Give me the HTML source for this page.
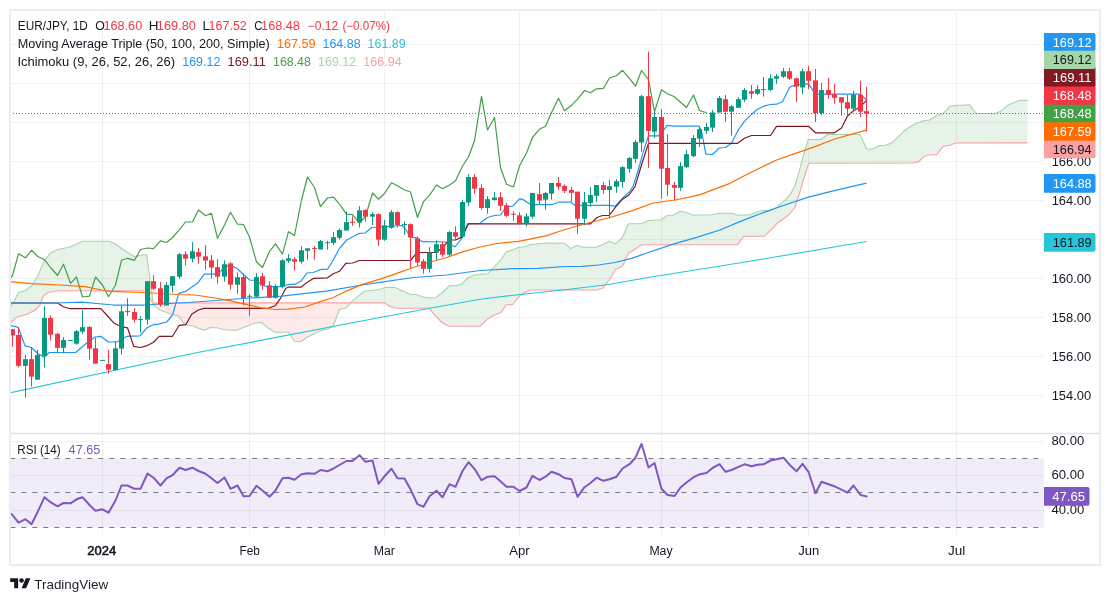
<!DOCTYPE html>
<html><head><meta charset="utf-8"><title>EUR/JPY chart</title>
<style>html,body{margin:0;padding:0;background:#fff;}body{width:1110px;height:602px;overflow:hidden;position:relative;font-family:"Liberation Sans", sans-serif;}</style>
</head><body>
<svg width="1110" height="602" viewBox="0 0 1110 602" style="position:absolute;left:0;top:0;font-family:'Liberation Sans',sans-serif">
<defs><clipPath id="cm"><rect x="11" y="11" width="1033" height="422"/></clipPath><clipPath id="cr"><rect x="11" y="434" width="1033" height="101"/></clipPath></defs>
<rect x="0" y="0" width="1110" height="602" fill="#ffffff"/>
<rect x="10" y="10" width="1090" height="555" fill="none" stroke="#ecedf3" stroke-width="2"/>
<line x1="102.5" y1="11" x2="102.5" y2="535" stroke="rgba(42,46,57,0.065)" stroke-width="1"/>
<line x1="249.5" y1="11" x2="249.5" y2="535" stroke="rgba(42,46,57,0.065)" stroke-width="1"/>
<line x1="384.5" y1="11" x2="384.5" y2="535" stroke="rgba(42,46,57,0.065)" stroke-width="1"/>
<line x1="519.5" y1="11" x2="519.5" y2="535" stroke="rgba(42,46,57,0.065)" stroke-width="1"/>
<line x1="661.5" y1="11" x2="661.5" y2="535" stroke="rgba(42,46,57,0.065)" stroke-width="1"/>
<line x1="808.5" y1="11" x2="808.5" y2="535" stroke="rgba(42,46,57,0.065)" stroke-width="1"/>
<line x1="956.5" y1="11" x2="956.5" y2="535" stroke="rgba(42,46,57,0.065)" stroke-width="1"/>
<line x1="11" y1="395.5" x2="1044" y2="395.5" stroke="rgba(42,46,57,0.065)" stroke-width="1"/>
<line x1="11" y1="356.5" x2="1044" y2="356.5" stroke="rgba(42,46,57,0.065)" stroke-width="1"/>
<line x1="11" y1="317.5" x2="1044" y2="317.5" stroke="rgba(42,46,57,0.065)" stroke-width="1"/>
<line x1="11" y1="278.5" x2="1044" y2="278.5" stroke="rgba(42,46,57,0.065)" stroke-width="1"/>
<line x1="11" y1="239.5" x2="1044" y2="239.5" stroke="rgba(42,46,57,0.065)" stroke-width="1"/>
<line x1="11" y1="200.5" x2="1044" y2="200.5" stroke="rgba(42,46,57,0.065)" stroke-width="1"/>
<line x1="11" y1="161.5" x2="1044" y2="161.5" stroke="rgba(42,46,57,0.065)" stroke-width="1"/>
<line x1="11" y1="122.5" x2="1044" y2="122.5" stroke="rgba(42,46,57,0.065)" stroke-width="1"/>
<line x1="11" y1="83.5" x2="1044" y2="83.5" stroke="rgba(42,46,57,0.065)" stroke-width="1"/>
<line x1="11" y1="44.5" x2="1044" y2="44.5" stroke="rgba(42,46,57,0.065)" stroke-width="1"/>
<rect x="11" y="458.5" width="1033" height="69" fill="rgba(126,87,194,0.115)"/>
<line x1="11" y1="441.5" x2="1044" y2="441.5" stroke="rgba(42,46,57,0.065)" stroke-width="1"/>
<line x1="11" y1="475.5" x2="1044" y2="475.5" stroke="rgba(42,46,57,0.065)" stroke-width="1"/>
<line x1="11" y1="510.5" x2="1044" y2="510.5" stroke="rgba(42,46,57,0.065)" stroke-width="1"/>
<line x1="11" y1="433.5" x2="1099" y2="433.5" stroke="#dfe1ec" stroke-width="1.4"/>
<g clip-path="url(#cm)">
<polygon points="10,306.7 10.5,306.18 11,305.67 11.5,305.15 12,304.64 12.5,304.12 13,303.61 13.5,302.87 14,301.79 14.5,300.71 15,299.63 15.5,298.55 16,297.47 16.5,296.39 17,295.31 17.5,294.23 18,293.15 18.5,292.45 19,292.32 19.5,292.2 20,292.07 20.5,291.94 21,291.81 21.5,291.69 22,291.56 22.5,291.43 23,291.31 23.5,291.18 24,291.05 24.5,290.93 25,290.8 25.5,290.43 26,290.05 26.5,289.68 27,289.31 27.5,288.93 28,288.56 28.5,288.19 29,287.81 29.5,287.44 30,287.07 30.5,286.7 31,286.32 31.5,285.95 32,285.33 32.5,284.54 33,283.76 33.5,282.98 34,282.19 34.5,281.41 35,280.62 35.5,279.84 36,279.05 36.5,278.27 37,277.48 37.5,276.7 38,275.51 38.5,274.33 39,273.14 39.5,271.95 40,270.77 40.5,269.58 41,268.39 41.5,267.21 42,266.02 42.5,264.83 43,263.65 43.5,262.46 44,261.27 44.5,260.41 45,259.77 45.5,259.12 46,258.47 46.5,257.83 47,257.18 47.5,256.53 48,255.89 48.5,255.24 49,254.59 49.5,253.95 50,253.3 50.5,253.05 51,252.8 51.5,252.55 52,252.3 52.5,252.05 53,251.8 53.5,251.55 54,251.3 54.5,251.05 55,250.8 55.5,250.55 56,250.3 56.5,250.05 57,249.8 57.5,249.64 58,249.53 58.5,249.43 59,249.32 59.5,249.21 60,249.11 60.5,249 61,248.9 61.5,248.79 62,248.69 62.5,248.58 63,248.48 63.5,248.37 64,248.27 64.5,248.16 65,248.05 65.5,247.95 66,247.84 66.5,247.74 67,247.63 67.5,247.53 68,247.42 68.5,247.32 69,247.21 69.5,247.11 70,247 70.5,246.77 71,246.54 71.5,246.32 72,246.09 72.5,245.86 73,245.63 73.5,245.4 74,245.18 74.5,244.95 75,244.72 75.5,244.49 76,244.26 76.5,244.04 77,243.81 77.5,243.58 78,243.35 78.5,243.12 79,242.9 79.5,242.67 80,242.44 80.5,242.21 81,241.98 81.5,241.76 82,241.53 82.5,241.3 83,241.3 83.5,241.3 84,241.3 84.5,241.3 85,241.3 85.5,241.3 86,241.3 86.5,241.3 87,241.3 87.5,241.3 88,241.3 88.5,241.3 89,241.3 89.5,241.3 90,241.3 90.5,241.3 91,241.3 91.5,241.3 92,241.3 92.5,241.3 93,241.3 93.5,241.3 94,241.3 94.5,241.3 95,241.3 95.5,241.3 96,241.3 96.5,241.3 97,241.3 97.5,241.3 98,241.3 98.5,241.3 99,241.3 99.5,241.3 100,241.3 100.5,241.3 101,241.3 101.5,241.3 102,241.3 102.5,241.3 103,241.3 103.5,241.3 104,241.3 104.5,241.3 105,241.3 105.5,241.3 106,241.3 106.5,241.3 107,241.3 107.5,241.3 108,241.3 108.5,241.37 109,241.55 109.5,241.73 110,241.91 110.5,242.09 111,242.27 111.5,242.45 112,242.63 112.5,242.8 113,242.98 113.5,243.16 114,243.34 114.5,243.52 115,243.7 115.5,244.07 116,244.43 116.5,244.8 117,245.16 117.5,245.53 118,245.89 118.5,246.26 119,246.62 119.5,246.99 120,247.35 120.5,247.72 121,248.08 121.5,248.43 122,248.76 122.5,249.08 123,249.41 123.5,249.73 124,250.06 124.5,250.38 125,250.71 125.5,251.03 126,251.36 126.5,251.69 127,252.01 127.5,252.34 128,252.66 128.5,252.99 129,253.31 129.5,253.64 130,253.97 130.5,254.29 131,254.62 131.5,254.94 132,255.27 132.5,255.59 133,255.92 133.5,256.24 134,256.57 134.5,256.63 135,256.52 135.5,256.41 136,256.3 136.5,256.19 137,256.08 137.5,255.97 138,255.86 138.5,255.74 139,255.63 139.5,255.52 140,255.41 140.5,255.3 141,255.25 141.5,255.2 142,255.15 142.5,255.11 143,255.06 143.5,255.01 144,254.96 144.5,254.91 145,254.86 145.5,254.82 146,254.77 146.5,254.72 147,256.96 147.5,260.74 148,264.51 148,290.8 147.5,290.8 147,290.8 146.5,290.8 146,290.8 145.5,290.8 145,290.8 144.5,290.8 144,290.8 143.5,290.8 143,290.8 142.5,290.8 142,290.8 141.5,290.8 141,290.8 140.5,290.8 140,290.8 139.5,290.8 139,290.8 138.5,290.8 138,290.8 137.5,290.8 137,290.8 136.5,290.8 136,290.8 135.5,290.8 135,290.8 134.5,290.8 134,290.8 133.5,290.8 133,290.8 132.5,290.8 132,290.8 131.5,290.8 131,290.8 130.5,290.8 130,290.8 129.5,290.8 129,290.8 128.5,290.8 128,290.8 127.5,290.8 127,290.8 126.5,290.8 126,290.8 125.5,290.8 125,290.8 124.5,290.8 124,290.8 123.5,290.8 123,290.8 122.5,290.8 122,290.8 121.5,290.8 121,290.8 120.5,290.8 120,290.8 119.5,290.8 119,290.8 118.5,290.8 118,290.8 117.5,290.8 117,290.8 116.5,290.8 116,290.8 115.5,290.8 115,290.8 114.5,290.8 114,290.8 113.5,290.8 113,290.8 112.5,290.8 112,290.8 111.5,290.8 111,290.8 110.5,290.8 110,290.8 109.5,290.8 109,290.8 108.5,290.8 108,290.8 107.5,290.8 107,290.8 106.5,290.8 106,290.8 105.5,290.8 105,290.8 104.5,290.8 104,290.8 103.5,290.8 103,290.8 102.5,290.8 102,290.8 101.5,290.8 101,290.8 100.5,290.8 100,290.8 99.5,290.8 99,290.8 98.5,290.8 98,290.8 97.5,290.8 97,290.8 96.5,290.8 96,290.8 95.5,290.8 95,290.8 94.5,290.8 94,290.8 93.5,290.8 93,290.8 92.5,290.8 92,290.8 91.5,290.8 91,290.8 90.5,290.8 90,290.8 89.5,290.8 89,290.8 88.5,290.8 88,290.8 87.5,290.8 87,290.8 86.5,290.8 86,290.8 85.5,290.8 85,290.8 84.5,290.8 84,290.8 83.5,290.8 83,290.8 82.5,290.8 82,290.8 81.5,290.8 81,290.8 80.5,290.8 80,290.8 79.5,290.8 79,290.8 78.5,290.8 78,290.8 77.5,290.8 77,290.8 76.5,290.8 76,290.8 75.5,290.8 75,290.8 74.5,290.8 74,290.8 73.5,290.8 73,290.8 72.5,290.8 72,290.8 71.5,290.8 71,290.8 70.5,290.8 70,290.8 69.5,290.8 69,290.8 68.5,290.8 68,290.8 67.5,290.8 67,290.8 66.5,290.8 66,290.8 65.5,290.8 65,290.8 64.5,290.8 64,290.8 63.5,290.8 63,290.8 62.5,290.8 62,290.8 61.5,290.8 61,290.8 60.5,290.8 60,290.8 59.5,290.8 59,290.8 58.5,290.8 58,290.8 57.5,290.8 57,290.8 56.5,290.84 56,290.94 55.5,291.04 55,291.14 54.5,291.25 54,291.35 53.5,291.45 53,291.55 52.5,291.65 52,291.75 51.5,291.85 51,291.95 50.5,292.05 50,292.16 49.5,292.26 49,292.36 48.5,292.46 48,292.7 47.5,293.03 47,293.36 46.5,293.69 46,294.02 45.5,294.35 45,294.68 44.5,295.01 44,295.34 43.5,295.67 43,296.64 42.5,298.03 42,299.42 41.5,300.82 41,302.21 40.5,303.61 40,305 39.5,305.53 39,306.06 38.5,306.59 38,307.12 37.5,307.65 37,308.18 36.5,308.71 36,309.24 35.5,309.77 35,310.3 34.5,310.55 34,310.81 33.5,311.06 33,311.31 32.5,311.57 32,311.82 31.5,312.07 31,312.32 30.5,312.58 30,312.83 29.5,313.08 29,313.34 28.5,313.59 28,313.84 27.5,314.1 27,314.35 26.5,314.55 26,314.67 25.5,314.79 25,314.91 24.5,315.03 24,315.15 23.5,315.27 23,315.38 22.5,315.5 22,315.62 21.5,315.74 21,315.86 20.5,315.98 20,316.1 19.5,316.22 19,316.34 18.5,316.46 18,316.58 17.5,316.7 17,317.14 16.5,317.58 16,318.02 15.5,318.46 15,318.9 14.5,319.34 14,319.78 13.5,320.22 13,320.66 12.5,321.1 12,321.54 11.5,321.98 11,322.42 10.5,322.86 10,323.3" fill="rgba(67,160,71,0.125)"/>
<polygon points="148,264.51 148.5,268.28 149,272.05 149.5,275.83 150,279.6 150.5,283.37 151,287.15 151.5,290.92 152,294.69 152.5,298.46 153,302.24 153.5,304.66 154,305.07 154.5,305.49 155,305.9 155.5,306.31 156,306.72 156.5,307.13 157,307.54 157.5,307.95 158,308.36 158.5,308.77 159,309.18 159.5,309.59 160,310 160.5,310.19 161,310.37 161.5,310.56 162,310.75 162.5,310.93 163,311.12 163.5,311.31 164,311.49 164.5,311.68 165,311.87 165.5,312.05 166,312.24 166.5,312.43 167,312.6 167.5,312.77 168,312.93 168.5,313.1 169,313.27 169.5,313.43 170,313.6 170.5,313.77 171,313.93 171.5,314.1 172,314.27 172.5,314.43 173,314.6 173.5,314.74 174,314.85 174.5,314.96 175,315.07 175.5,315.18 176,315.29 176.5,315.4 177,315.51 177.5,315.62 178,315.73 178.5,316.07 179,316.74 179.5,317.41 180,318.08 180.5,318.75 181,319.42 181.5,320.09 182,320.76 182.5,321.43 183,322.1 183.5,322.65 184,323.01 184.5,323.38 185,323.75 185.5,324.12 186,324.49 186.5,324.85 187,325.05 187.5,325.12 188,325.2 188.5,325.27 189,325.35 189.5,325.42 190,325.5 190.5,325.58 191,325.65 191.5,325.73 192,325.8 192.5,325.88 193,325.95 193.5,326.09 194,326.32 194.5,326.55 195,326.78 195.5,327.01 196,327.24 196.5,327.47 197,327.7 197.5,327.93 198,328.16 198.5,328.37 199,328.54 199.5,328.71 200,328.88 200.5,329.05 201,329.22 201.5,329.38 202,329.55 202.5,329.72 203,329.89 203.5,330.06 204,330.23 204.5,330.16 205,329.91 205.5,329.67 206,329.43 206.5,329.19 207,328.95 207.5,328.71 208,328.47 208.5,328.22 209,327.98 209.5,327.74 210,327.5 210.5,327.52 211,327.54 211.5,327.57 212,327.59 212.5,327.61 213,327.63 213.5,327.66 214,327.68 214.5,327.7 215,327.72 215.5,327.75 216,327.77 216.5,327.79 217,327.88 217.5,328.01 218,328.13 218.5,328.26 219,328.39 219.5,328.52 220,328.65 220.5,328.78 221,328.91 221.5,329.04 222,329.17 222.5,329.29 223,329.42 223.5,329.52 224,329.58 224.5,329.64 225,329.7 225.5,329.76 226,329.82 226.5,329.88 227,329.94 227.5,330 228,330.06 228.5,330.12 229,330.18 229.5,330.24 230,330.3 230.5,330.3 231,330.3 231.5,330.3 232,330.3 232.5,330.3 233,330.3 233.5,330.3 234,330.3 234.5,330.3 235,330.3 235.5,330.3 236,330.3 236.5,330.3 237,330.17 237.5,329.96 238,329.75 238.5,329.54 239,329.32 239.5,329.11 240,328.9 240.5,328.69 241,328.48 241.5,328.26 242,328.05 242.5,327.84 243,327.63 243.5,327.42 244,327.24 244.5,327.05 245,326.86 245.5,326.67 246,326.48 246.5,326.3 247,326.11 247.5,325.92 248,325.73 248.5,325.54 249,325.36 249.5,325.17 250,324.98 250.5,324.79 251,324.6 251.5,324.42 252,324.23 252.5,324.04 253,323.85 253.5,323.66 254,323.48 254.5,323.29 255,323.1 255.5,322.91 256,322.79 256.5,322.76 257,322.74 257.5,322.71 258,322.69 258.5,322.66 259,322.64 259.5,322.61 260,322.59 260.5,322.56 261,322.54 261.5,322.51 262,322.76 262.5,323.2 263,323.64 263.5,324.08 264,324.52 264.5,324.96 265,325.4 265.5,325.84 266,326.28 266.5,326.72 267,327.16 267.5,327.6 268,328.04 268.5,328.42 269,328.71 269.5,329 270,329.29 270.5,329.58 271,329.87 271.5,330.16 272,330.45 272.5,330.74 273,331.04 273.5,331.33 274,331.62 274.5,331.91 275,332.2 275.5,332.2 276,332.2 276.5,332.2 277,332.2 277.5,332.2 278,332.2 278.5,332.2 279,332.2 279.5,332.2 280,332.2 280.5,332.2 281,332.2 281.5,332.2 282,332.2 282.5,332.2 283,332.2 283.5,332.2 284,332.2 284.5,332.2 285,332.2 285.5,332.2 286,332.2 286.5,332.2 287,332.2 287.5,332.2 288,332.2 288.5,332.49 289,333.22 289.5,333.94 290,334.67 290.5,335.39 291,336.12 291.5,336.85 292,337.57 292.5,338.3 293,339.02 293.5,339.75 294,340.47 294.5,341.2 295,341.24 295.5,341.28 296,341.32 296.5,341.36 297,341.4 297.5,341.44 298,341.48 298.5,341.52 299,341.56 299.5,341.6 300,341.64 300.5,341.68 301,341.55 301.5,341.19 302,340.83 302.5,340.47 303,340.1 303.5,339.74 304,339.38 304.5,339.01 305,338.65 305.5,338.29 306,337.93 306.5,337.56 307,337.2 307.5,336.95 308,336.71 308.5,336.46 309,336.22 309.5,335.97 310,335.72 310.5,335.48 311,335.23 311.5,334.98 312,334.74 312.5,334.49 313,334.25 313.5,334 314,333.75 314.5,333.51 315,333.26 315.5,333.02 316,332.77 316.5,332.52 317,332.28 317.5,332.03 318,331.78 318.5,331.54 319,331.29 319.5,331.05 320,330.8 320.5,330.69 321,330.59 321.5,330.48 322,330.37 322.5,330.27 323,330.16 323.5,330.05 324,329.95 324.5,329.84 325,329.73 325.5,329.63 326,329.52 326.5,329.41 327,329.31 327.5,329.2 328,328.91 328.5,328.61 329,328.32 329.5,328.03 330,327.73 330.5,327.44 331,327.15 331.5,326.86 332,326.56 332.5,326.27 333,325.98 333.5,325.26 334,323.93 334.5,322.59 335,321.25 335.5,319.91 336,318.57 336.5,317.23 337,315.89 337.5,314.55 338,313.22 338.5,311.88 339,310.54 339.5,309.2 340,309.13 340.5,309.06 341,308.99 341.5,308.91 342,308.84 342.5,308.77 343,308.7 343.5,308.63 344,308.56 344.5,308.49 345,308.41 345.5,308.34 346,308.08 346.5,307.52 347,306.96 347,302.83 346.5,302.83 346,302.83 345.5,302.83 345,302.83 344.5,302.83 344,302.83 343.5,302.84 343,302.84 342.5,302.84 342,302.84 341.5,302.84 341,302.84 340.5,302.84 340,302.84 339.5,302.84 339,302.84 338.5,302.84 338,302.84 337.5,302.84 337,302.84 336.5,302.84 336,302.84 335.5,302.84 335,302.84 334.5,302.84 334,302.84 333.5,302.84 333,302.84 332.5,302.84 332,302.85 331.5,302.85 331,302.85 330.5,302.85 330,302.85 329.5,302.85 329,302.85 328.5,302.85 328,302.85 327.5,302.85 327,302.85 326.5,302.85 326,302.85 325.5,302.85 325,302.85 324.5,302.85 324,302.85 323.5,302.85 323,302.85 322.5,302.85 322,302.85 321.5,302.85 321,302.85 320.5,302.85 320,302.86 319.5,302.86 319,302.86 318.5,302.86 318,302.86 317.5,302.86 317,302.86 316.5,302.86 316,302.86 315.5,302.86 315,302.86 314.5,302.86 314,302.86 313.5,302.86 313,302.86 312.5,302.86 312,302.86 311.5,302.86 311,302.86 310.5,302.86 310,302.86 309.5,302.86 309,302.86 308.5,302.87 308,302.87 307.5,302.87 307,302.87 306.5,302.87 306,302.87 305.5,302.87 305,302.87 304.5,302.87 304,302.87 303.5,302.87 303,302.87 302.5,302.87 302,302.87 301.5,302.87 301,302.87 300.5,302.87 300,302.87 299.5,302.87 299,302.87 298.5,302.87 298,302.87 297.5,302.87 297,302.88 296.5,302.88 296,302.88 295.5,302.88 295,302.88 294.5,302.88 294,302.88 293.5,302.88 293,302.88 292.5,302.88 292,302.88 291.5,302.88 291,302.88 290.5,302.88 290,302.88 289.5,302.88 289,302.88 288.5,302.88 288,302.88 287.5,302.88 287,302.88 286.5,302.88 286,302.88 285.5,302.89 285,302.89 284.5,302.89 284,302.89 283.5,302.89 283,302.89 282.5,302.89 282,302.89 281.5,302.89 281,302.89 280.5,302.89 280,302.89 279.5,302.89 279,302.89 278.5,302.89 278,302.89 277.5,302.89 277,302.89 276.5,302.89 276,302.89 275.5,302.89 275,302.89 274.5,302.89 274,302.9 273.5,302.9 273,302.9 272.5,302.9 272,302.9 271.5,302.9 271,302.9 270.5,302.9 270,302.9 269.5,302.9 269,302.9 268.5,302.9 268,302.9 267.5,302.9 267,302.9 266.5,302.9 266,302.9 265.5,302.9 265,302.9 264.5,302.9 264,302.9 263.5,302.9 263,302.9 262.5,302.91 262,302.91 261.5,302.91 261,302.91 260.5,302.91 260,302.91 259.5,302.91 259,302.91 258.5,302.91 258,302.91 257.5,302.91 257,302.91 256.5,302.91 256,302.91 255.5,302.91 255,302.91 254.5,302.91 254,302.91 253.5,302.91 253,302.91 252.5,302.91 252,302.91 251.5,302.91 251,302.91 250.5,302.92 250,302.92 249.5,302.92 249,302.92 248.5,302.92 248,302.92 247.5,302.92 247,302.92 246.5,302.92 246,302.92 245.5,302.92 245,302.92 244.5,302.92 244,302.92 243.5,302.92 243,302.92 242.5,302.92 242,302.92 241.5,302.92 241,302.92 240.5,302.92 240,302.92 239.5,302.92 239,302.93 238.5,302.93 238,302.93 237.5,302.93 237,302.93 236.5,302.93 236,302.93 235.5,302.93 235,302.93 234.5,302.93 234,302.93 233.5,302.93 233,302.93 232.5,302.93 232,302.93 231.5,302.93 231,302.93 230.5,302.93 230,302.93 229.5,302.93 229,302.93 228.5,302.93 228,302.93 227.5,302.94 227,302.94 226.5,302.94 226,302.94 225.5,302.94 225,302.94 224.5,302.94 224,302.94 223.5,302.94 223,302.94 222.5,302.94 222,302.94 221.5,302.94 221,302.94 220.5,302.94 220,302.94 219.5,302.94 219,302.94 218.5,302.94 218,302.94 217.5,302.94 217,302.94 216.5,302.94 216,302.95 215.5,302.95 215,302.95 214.5,302.95 214,302.95 213.5,302.95 213,302.95 212.5,302.95 212,302.95 211.5,302.95 211,302.95 210.5,302.95 210,302.95 209.5,302.95 209,302.95 208.5,302.95 208,302.95 207.5,302.95 207,302.95 206.5,302.95 206,302.95 205.5,302.95 205,302.95 204.5,302.96 204,302.96 203.5,302.96 203,302.96 202.5,302.96 202,302.96 201.5,302.96 201,302.96 200.5,302.96 200,302.96 199.5,302.96 199,302.96 198.5,302.96 198,302.96 197.5,302.96 197,302.96 196.5,302.96 196,302.96 195.5,302.96 195,302.96 194.5,302.96 194,302.96 193.5,302.96 193,302.97 192.5,302.97 192,302.97 191.5,302.97 191,302.97 190.5,302.97 190,302.97 189.5,302.97 189,302.97 188.5,302.97 188,302.97 187.5,302.97 187,302.97 186.5,302.97 186,302.97 185.5,302.97 185,302.97 184.5,302.97 184,302.97 183.5,302.97 183,302.97 182.5,302.97 182,302.97 181.5,302.97 181,302.98 180.5,302.98 180,302.98 179.5,302.98 179,302.98 178.5,302.98 178,302.98 177.5,302.98 177,302.98 176.5,302.98 176,302.98 175.5,302.98 175,302.98 174.5,302.98 174,302.98 173.5,302.98 173,302.98 172.5,302.98 172,302.98 171.5,302.98 171,302.98 170.5,302.98 170,302.98 169.5,302.99 169,302.99 168.5,302.99 168,302.99 167.5,302.99 167,302.99 166.5,302.99 166,302.99 165.5,302.99 165,302.99 164.5,302.99 164,302.99 163.5,302.99 163,302.99 162.5,302.99 162,302.99 161.5,302.99 161,302.99 160.5,302.99 160,302.99 159.5,302.99 159,302.99 158.5,302.99 158,303 157.5,303 157,303 156.5,303 156,303 155.5,303 155,303 154.5,303 154,303 153.5,303 153,303 152.5,303 152,302.06 151.5,301.12 151,300.18 150.5,299.24 150,298.3 149.5,296.09 149,293.89 148.5,291.68 148,290.8" fill="rgba(244,67,54,0.11)"/>
<polygon points="347,306.96 347.5,306.4 348,305.84 348.5,305.28 349,304.72 349.5,304.16 350,303.6 350.5,303.04 351,302.48 351.5,301.92 352,301.36 352.5,300.8 353,300.39 353.5,299.97 354,299.56 354.5,299.15 355,298.73 355.5,298.32 356,297.91 356.5,297.5 357,297.08 357.5,296.67 358,296.26 358.5,295.84 359,295.43 359.5,295.02 360,294.6 360.5,294.19 361,293.78 361.5,293.37 362,292.95 362.5,292.54 363,292.13 363.5,291.71 364,291.3 364.5,291.24 365,291.19 365.5,291.13 366,291.07 366.5,291.02 367,290.96 367.5,290.91 368,290.85 368.5,290.79 369,290.74 369.5,290.68 370,290.62 370.5,290.57 371,290.51 371.5,290.46 372,290.4 372.5,290.34 373,290.29 373.5,290.23 374,290.18 374.5,290.12 375,290.06 375.5,290.01 376,289.95 376.5,289.89 377,289.84 377.5,289.78 378,289.73 378.5,289.67 379,289.61 379.5,289.56 380,289.5 380.5,289.3 381,289.1 381.5,288.91 382,288.71 382.5,288.51 383,288.31 383.5,288.11 384,287.91 384.5,287.72 385,287.52 385.5,287.32 386,287.21 386.5,287.22 387,287.24 387.5,287.26 388,287.27 388.5,287.29 389,287.3 389.5,287.32 390,287.34 390.5,287.35 391,287.37 391.5,287.39 392,287.4 392.5,287.42 393,287.43 393.5,287.45 394,287.47 394.5,287.48 395,287.5 395.5,287.72 396,287.95 396.5,288.17 397,288.4 397.5,288.62 398,288.84 398.5,289.07 399,289.29 399.5,289.51 400,289.74 400.5,289.96 401,290.19 401.5,290.41 402,290.63 402.5,290.86 403,291.08 403.5,291.3 404,291.53 404.5,291.75 405,291.97 405.5,292.19 406,292.42 406.5,292.64 407,292.86 407.5,293.09 408,293.31 408.5,293.53 409,293.75 409.5,293.98 410,294.2 410.5,294.23 411,294.25 411.5,294.28 412,294.3 412.5,294.33 413,294.36 413.5,294.38 414,294.41 414.5,294.43 415,294.46 415.5,294.48 416,294.57 416.5,294.73 417,294.9 417.5,295.07 418,295.23 418.5,295.4 419,295.57 419.5,295.73 420,295.9 420.5,296.07 421,296.23 421.5,296.4 422,296.57 422.5,296.73 423,296.9 423.5,297.03 424,297.1 424.5,297.18 425,297.25 425.5,297.33 426,297.4 426.5,297.48 427,297.55 427.5,297.63 428,297.7 428.5,297.78 429,297.85 429.5,297.93 430,298 430.5,297.96 431,297.91 431.5,297.87 432,297.83 432.5,297.78 433,297.74 433.5,297.7 434,297.66 434.5,297.61 435,297.57 435.5,297.53 436,297.35 436.5,296.98 437,296.6 437.5,296.23 438,295.86 438.5,295.49 439,295.11 439.5,294.74 440,294.37 440.5,293.99 441,293.62 441.5,293.25 442,292.87 442.5,292.5 443,292 443.5,291.5 444,291 444.5,290.5 445,290 445.5,289.5 446,289 446.5,288.5 447,288 447.5,287.5 448,287 448.5,286.5 449,286 449.5,285.8 450,285.8 450.5,285.8 451,285.8 451.5,285.8 452,285.8 452.5,285.8 453,285.8 453.5,285.8 454,285.8 454.5,285.8 455,285.8 455.5,285.68 456,285.56 456.5,285.44 457,285.32 457.5,285.2 458,285.08 458.5,284.96 459,284.84 459.5,284.73 460,284.61 460.5,284.49 461,284.37 461.5,284.25 462,283.88 462.5,283.34 463,282.81 463.5,282.28 464,281.74 464.5,281.21 465,280.67 465.5,280.14 466,279.6 466.5,279.07 467,278.53 467.5,278 468,277.78 468.5,277.55 469,277.33 469.5,277.1 470,276.88 470.5,276.66 471,276.43 471.5,276.21 472,275.99 472.5,275.76 473,275.54 473.5,275.31 474,275.09 474.5,274.96 475,274.89 475.5,274.82 476,274.75 476.5,274.68 477,274.61 477.5,274.54 478,274.48 478.5,274.41 479,274.34 479.5,274.27 480,274.2 480.5,274.17 481,274.15 481.5,274.12 482,274.09 482.5,274.07 483,274.04 483.5,274.01 484,273.99 484.5,273.96 485,273.93 485.5,273.91 486,273.88 486.5,273.85 487,273.83 487.5,273.8 488,273.29 488.5,272.79 489,272.28 489.5,271.77 490,271.26 490.5,270.76 491,270.25 491.5,269.74 492,269.24 492.5,268.73 493,268.22 493.5,267.71 494,267.21 494.5,266.7 495,266.14 495.5,265.58 496,265.02 496.5,264.47 497,263.91 497.5,263.35 498,262.79 498.5,262.23 499,261.68 499.5,261.12 500,260.56 500.5,260 501,259.31 501.5,258.62 502,257.93 502.5,257.23 503,256.54 503.5,255.85 504,255.16 504.5,254.47 505,253.77 505.5,253.08 506,252.39 506.5,251.7 507,251.54 507.5,251.38 508,251.22 508.5,251.07 509,250.91 509.5,250.75 510,250.59 510.5,250.43 511,250.27 511.5,250.11 512,249.95 512.5,249.8 513,249.62 513.5,249.42 514,249.22 514.5,249.01 515,248.81 515.5,248.61 516,248.41 516.5,248.21 517,248.01 517.5,247.81 518,247.6 518.5,247.4 519,247.2 519.5,247 520,246.97 520.5,246.95 521,246.92 521.5,246.89 522,246.86 522.5,246.84 523,246.81 523.5,246.78 524,246.75 524.5,246.73 525,246.7 525.5,246.51 526,246.32 526.5,246.13 527,245.94 527.5,245.75 528,245.56 528.5,245.37 529,245.18 529.5,244.99 530,244.8 530.5,244.61 531,244.48 531.5,244.43 532,244.37 532.5,244.32 533,244.27 533.5,244.21 534,244.16 534.5,244.11 535,244.05 535.5,244 536,243.95 536.5,243.89 537,243.84 537.5,243.79 538,243.73 538.5,243.68 539,243.64 539.5,243.6 540,243.56 540.5,243.52 541,243.47 541.5,243.43 542,243.39 542.5,243.35 543,243.31 543.5,243.27 544,243.22 544.5,243.18 545,243.14 545.5,243.1 546,243.06 546.5,243.02 547,243 547.5,243.01 548,243.02 548.5,243.03 549,243.04 549.5,243.05 550,243.05 550.5,243.06 551,243.07 551.5,243.08 552,243.09 552.5,243.1 553,243.1 553.5,243.11 554,243.12 554.5,243.13 555,243.14 555.5,243.14 556,243.15 556.5,243.16 557,243.17 557.5,243.18 558,243.19 558.5,243.19 559,243.2 559.5,243.21 560,243.22 560.5,243.23 561,243.23 561.5,243.24 562,243.25 562.5,243.26 563,243.27 563.5,243.28 564,243.28 564.5,243.29 565,243.3 565.5,243.77 566,244.23 566.5,244.7 567,245.16 567.5,245.63 568,246.09 568.5,246.56 569,247.02 569.5,247.49 570,247.96 570.5,248.42 571,248.59 571.5,248.32 572,248.05 572.5,247.78 573,247.51 573.5,247.24 574,246.96 574.5,246.69 575,246.42 575.5,246.15 576,245.88 576.5,245.61 577,245.58 577.5,245.71 578,245.83 578.5,245.96 579,246.09 579.5,246.22 580,246.35 580.5,246.48 581,246.61 581.5,246.74 582,246.87 582.5,246.99 583,247.12 583.5,247.2 584,247.2 584.5,247.2 585,247.2 585.5,247.2 586,247.2 586.5,247.2 587,247.2 587.5,247.2 588,247.2 588.5,247.2 589,247.2 589.5,247.2 590,247.2 590.5,247.2 591,247.2 591.5,247.2 592,247.2 592.5,247.2 593,247.2 593.5,247.2 594,247.2 594.5,247.2 595,247.2 595.5,247.2 596,247.2 596.5,247.2 597,247.06 597.5,246.84 598,246.61 598.5,246.38 599,246.15 599.5,245.93 600,245.7 600.5,245.47 601,245.25 601.5,245.02 602,244.79 602.5,244.56 603,244.34 603.5,244.1 604,243.86 604.5,243.61 605,243.36 605.5,243.12 606,242.87 606.5,242.63 607,242.38 607.5,242.14 608,241.89 608.5,241.64 609,241.4 609.5,241.41 610,241.59 610.5,241.77 611,241.95 611.5,242.14 612,242.32 612.5,242.5 613,242.68 613.5,242.86 614,243.05 614.5,243.23 615,243.41 615.5,243.59 616,243.51 616.5,243.05 617,242.59 617.5,242.13 618,241.66 618.5,241.2 619,240.74 619.5,240.28 620,239.81 620.5,239.35 621,238.89 621.5,238.43 622,237.96 622.5,237.5 623,236.32 623.5,235.14 624,233.96 624.5,232.78 625,231.59 625.5,230.41 626,229.23 626.5,228.05 627,226.87 627.5,225.69 628,224.51 628.5,223.8 629,223.8 629.5,223.8 630,223.8 630.5,223.8 631,223.8 631.5,223.8 632,223.8 632.5,223.8 633,223.8 633.5,223.8 634,223.8 634.5,223.8 635,223.8 635.5,223.8 636,223.8 636.5,223.8 637,223.8 637.5,223.8 638,223.8 638.5,223.8 639,223.8 639.5,223.8 640,223.8 640.5,223.8 641,223.8 641.5,223.8 642,223.65 642.5,223.4 643,223.15 643.5,222.9 644,222.65 644.5,222.4 645,222.15 645.5,221.9 646,221.65 646.5,221.4 647,221.15 647.5,220.9 648,220.65 648.5,220.49 649,220.46 649.5,220.42 650,220.39 650.5,220.36 651,220.33 651.5,220.3 652,220.26 652.5,220.23 653,220.2 653.5,220.17 654,220.14 654.5,220.1 655,220.07 655.5,220.04 656,220.01 656.5,219.98 657,219.94 657.5,219.91 658,219.88 658.5,219.85 659,219.82 659.5,219.78 660,219.75 660.5,219.72 661,219.57 661.5,219.26 662,218.95 662.5,218.63 663,218.32 663.5,218.01 664,217.69 664.5,217.38 665,217.07 665.5,216.75 666,216.44 666.5,216.13 667,215.81 667.5,215.5 668,215.48 668.5,215.47 669,215.45 669.5,215.43 670,215.41 670.5,215.4 671,215.38 671.5,215.36 672,215.34 672.5,215.33 673,215.31 673.5,215.18 674,214.88 674.5,214.58 675,214.29 675.5,213.99 676,213.69 676.5,213.39 677,213.09 677.5,212.79 678,212.49 678.5,212.2 679,211.9 679.5,211.6 680,211.3 680.5,211.38 681,211.46 681.5,211.53 682,211.61 682.5,211.69 683,211.77 683.5,211.84 684,211.92 684.5,212 685,212.08 685.5,212.15 686,212.28 686.5,212.49 687,212.7 687.5,212.91 688,213.12 688.5,213.33 689,213.54 689.5,213.75 690,213.96 690.5,214.16 691,214.37 691.5,214.58 692,214.79 692.5,215 693,214.99 693.5,214.98 694,214.98 694.5,214.97 695,214.96 695.5,214.95 696,214.95 696.5,214.94 697,214.93 697.5,214.92 698,214.91 698.5,214.91 699,214.9 699.5,214.89 700,214.88 700.5,214.88 701,214.87 701.5,214.86 702,214.85 702.5,214.84 703,214.84 703.5,214.83 704,214.82 704.5,214.81 705,214.8 705.5,214.8 706,214.79 706.5,214.78 707,214.77 707.5,214.77 708,214.76 708.5,214.75 709,214.74 709.5,214.73 710,214.73 710.5,214.72 711,214.71 711.5,214.7 712,214.63 712.5,214.52 713,214.4 713.5,214.29 714,214.18 714.5,214.06 715,213.95 715.5,213.84 716,213.72 716.5,213.61 717,213.5 717.5,213.38 718,213.27 718.5,213.2 719,213.2 719.5,213.2 720,213.2 720.5,213.2 721,213.2 721.5,213.2 722,213.2 722.5,213.2 723,213.2 723.5,213.2 724,213.2 724.5,213.2 725,213.2 725.5,213.2 726,213.2 726.5,213.2 727,213.2 727.5,213.2 728,213.2 728.5,213.2 729,213.2 729.5,213.2 730,213.2 730.5,213.2 731,213.2 731.5,213.2 732,213.29 732.5,213.44 733,213.59 733.5,213.75 734,213.9 734.5,214.05 735,214.2 735.5,214.35 736,214.5 736.5,214.65 737,214.81 737.5,214.96 738,215.11 738.5,215.19 739,215.17 739.5,215.15 740,215.13 740.5,215.11 741,215.08 741.5,215.06 742,215.04 742.5,215.02 743,215 743.5,214.98 744,214.96 744.5,214.94 745,214.91 745.5,214.89 746,214.87 746.5,214.85 747,214.83 747.5,214.81 748,214.79 748.5,214.76 749,214.74 749.5,214.72 750,214.7 750.5,214.5 751,214.3 751.5,214.1 752,213.9 752.5,213.7 753,213.5 753.5,213.3 754,213.1 754.5,212.9 755,212.7 755.5,212.5 756,212.3 756.5,212.1 757,211.9 757.5,211.7 758,211.6 758.5,211.49 759,211.39 759.5,211.29 760,211.18 760.5,211.08 761,210.98 761.5,210.87 762,210.77 762.5,210.67 763,210.56 763.5,210.51 764,210.53 764.5,210.55 765,210.58 765.5,210.6 766,210.62 766.5,210.64 767,210.67 767.5,210.69 768,210.71 768.5,210.73 769,210.76 769.5,210.78 770,210.8 770.5,210.55 771,210.31 771.5,210.06 772,209.81 772.5,209.57 773,209.32 773.5,209.08 774,208.83 774.5,208.58 775,208.34 775.5,208.09 776,207.84 776.5,207.6 777,207.24 777.5,206.8 778,206.36 778.5,205.92 779,205.48 779.5,205.04 780,204.6 780.5,204.16 781,203.72 781.5,203.28 782,202.84 782.5,202.4 783,201.96 783.5,201.5 784,201 784.5,200.5 785,200 785.5,199.5 786,199 786.5,198.5 787,198 787.5,197.5 788,197 788.5,196.5 789,196 789.5,195.5 790,195 790.5,194.08 791,193.16 791.5,192.24 792,191.32 792.5,190.4 793,189.48 793.5,188.56 794,187.64 794.5,186.72 795,185.8 795.5,184.05 796,182.3 796.5,180.55 797,178.8 797.5,177.05 798,175.3 798.5,173.55 799,171.8 799.5,170.05 800,168.3 800.5,166.47 801,164.64 801.5,162.81 802,160.98 802.5,159.15 803,157.32 803.5,155.49 804,153.66 804.5,151.83 805,150 805.5,148.41 806,146.82 806.5,145.23 807,143.64 807.5,142.05 808,140.45 808.5,139.5 809,139.5 809.5,139.5 810,139.5 810.5,139.5 811,139.5 811.5,139.5 812,139.5 812.5,139.5 813,139.5 813.5,139.5 814,139.5 814.5,139.5 815,139.5 815.5,139.5 816,139.5 816.5,139.5 817,139.5 817.5,139.5 818,139.5 818.5,139.5 819,139.5 819.5,139.5 820,139.5 820.5,139.5 821,139.35 821.5,138.98 822,138.6 822.5,138.23 823,137.86 823.5,137.49 824,137.11 824.5,136.74 825,136.37 825.5,135.99 826,135.62 826.5,135.25 827,134.87 827.5,134.5 828,134.5 828.5,134.5 829,134.5 829.5,134.5 830,134.5 830.5,134.5 831,134.5 831.5,134.5 832,134.5 832.5,134.5 833,134.5 833.5,134.5 834,134.5 834.5,134.5 835,134.5 835.5,134.5 836,134.5 836.5,134.5 837,134.5 837.5,134.5 838,134.5 838.5,134.5 839,134.5 839.5,134.5 840,134.5 840.5,134.5 841,134.5 841.5,134.5 842,134.5 842.5,134.5 843,134.5 843.5,134.5 844,134.5 844.5,134.5 845,134.5 845.5,134.5 846,134.5 846.5,134.5 847,134.5 847.5,134.5 848,134.5 848.5,134.5 849,134.5 849.5,134.5 850,134.5 850.5,134.5 851,134.5 851.5,134.5 852,134.5 852.5,134.5 853,134.5 853.5,134.5 854,134.5 854.5,134.5 855,134.5 855.5,134.5 856,134.5 856.5,134.5 857,134.5 857.5,134.5 858,134.5 858.5,134.5 859,134.5 859.5,134.5 860,134.5 860.5,135.57 861,136.63 861.5,137.7 862,138.77 862.5,139.84 863,140.9 863.5,141.97 864,143.04 864.5,144.1 865,145.17 865.5,146.24 866,147.31 866.5,148.37 867,148.82 867.5,148.86 868,148.89 868.5,148.92 869,148.96 869.5,148.99 870,149.03 870.5,149.06 871,149.1 871.5,149.13 872,149.17 872.5,149.2 873,148.92 873.5,148.65 874,148.37 874.5,148.1 875,147.82 875.5,147.54 876,147.27 876.5,146.99 877,146.71 877.5,146.44 878,146.16 878.5,145.89 879,145.61 879.5,145.49 880,145.47 880.5,145.46 881,145.44 881.5,145.42 882,145.4 882.5,145.39 883,145.37 883.5,145.35 884,145.33 884.5,145.32 885,145.3 885.5,145.13 886,144.96 886.5,144.79 887,144.61 887.5,144.44 888,144.27 888.5,144.1 889,143.93 889.5,143.76 890,143.58 890.5,143.41 891,143.24 891.5,143.07 892,142.71 892.5,142.24 893,141.76 893.5,141.28 894,140.8 894.5,140.33 895,139.85 895.5,139.37 896,138.9 896.5,138.42 897,137.94 897.5,137.46 898,136.99 898.5,136.5 899,136 899.5,135.5 900,135 900.5,134.5 901,134 901.5,133.5 902,133 902.5,132.5 903,132 903.5,131.5 904,131 904.5,130.6 905,130.27 905.5,129.93 906,129.6 906.5,129.27 907,128.93 907.5,128.6 908,128.27 908.5,127.93 909,127.6 909.5,127.27 910,126.93 910.5,126.6 911,126.27 911.5,125.93 912,125.65 912.5,125.4 913,125.15 913.5,124.9 914,124.65 914.5,124.4 915,124.15 915.5,123.9 916,123.65 916.5,123.4 917,123.15 917.5,122.9 918,122.65 918.5,122.43 919,122.26 919.5,122.09 920,121.92 920.5,121.75 921,121.58 921.5,121.42 922,121.25 922.5,121.08 923,120.91 923.5,120.74 924,120.57 924.5,120.47 925,120.43 925.5,120.39 926,120.34 926.5,120.3 927,120.26 927.5,120.22 928,120.17 928.5,120.13 929,120.09 929.5,120.04 930,120 930.5,119.65 931,119.3 931.5,118.95 932,118.6 932.5,118.25 933,117.9 933.5,117.54 934,117.19 934.5,116.84 935,116.49 935.5,116.14 936,115.79 936.5,115.44 937,115.23 937.5,115.11 938,114.98 938.5,114.86 939,114.74 939.5,114.62 940,114.5 940.5,114.38 941,114.26 941.5,114.14 942,114.02 942.5,113.89 943,113.77 943.5,113.47 944,112.89 944.5,112.31 945,111.73 945.5,111.16 946,110.58 946.5,110 947,109.42 947.5,108.84 948,108.27 948.5,107.69 949,107.11 949.5,106.53 950,106.25 950.5,106.17 951,106.09 951.5,106 952,105.92 952.5,105.84 953,105.76 953.5,105.68 954,105.6 954.5,105.51 955,105.43 955.5,105.35 956,105.3 956.5,105.3 957,105.3 957.5,105.3 958,105.3 958.5,105.3 959,105.3 959.5,105.3 960,105.3 960.5,105.3 961,105.3 961.5,105.3 962,105.3 962.5,105.3 963,105.3 963.5,105.28 964,105.23 964.5,105.18 965,105.14 965.5,105.09 966,105.04 966.5,104.99 967,104.94 967.5,104.89 968,104.85 968.5,104.8 969,104.75 969.5,104.7 970,105.38 970.5,106.07 971,106.75 971.5,107.43 972,108.11 972.5,108.8 973,109.48 973.5,110.16 974,110.84 974.5,111.53 975,112.21 975.5,112.89 976,113.3 976.5,113.32 977,113.33 977.5,113.34 978,113.35 978.5,113.36 979,113.37 979.5,113.38 980,113.39 980.5,113.4 981,113.41 981.5,113.42 982,113.43 982.5,113.45 983,113.46 983.5,113.47 984,113.48 984.5,113.49 985,113.5 985.5,113.51 986,113.52 986.5,113.53 987,113.54 987.5,113.55 988,113.57 988.5,113.58 989,113.59 989.5,113.6 990,113.61 990.5,113.62 991,113.63 991.5,113.64 992,113.65 992.5,113.66 993,113.67 993.5,113.68 994,113.7 994.5,113.59 995,113.4 995.5,113.21 996,113.02 996.5,112.83 997,112.64 997.5,112.45 998,112.26 998.5,112.07 999,111.88 999.5,111.69 1000,111.5 1000.5,111.31 1001,111.02 1001.5,110.58 1002,110.14 1002.5,109.7 1003,109.26 1003.5,108.82 1004,108.38 1004.5,107.94 1005,107.5 1005.5,107.06 1006,106.62 1006.5,106.18 1007,105.74 1007.5,105.3 1008,105.09 1008.5,104.88 1009,104.67 1009.5,104.46 1010,104.26 1010.5,104.05 1011,103.84 1011.5,103.63 1012,103.42 1012.5,103.21 1013,103 1013.5,102.79 1014,102.58 1014.5,102.39 1015,102.2 1015.5,102.01 1016,101.82 1016.5,101.63 1017,101.44 1017.5,101.25 1018,101.06 1018.5,100.87 1019,100.68 1019.5,100.49 1020,100.3 1020.5,100.31 1021,100.31 1021.5,100.32 1022,100.33 1022.5,100.33 1023,100.34 1023.5,100.35 1024,100.35 1024.5,100.36 1025,100.37 1025.5,100.37 1026,100.38 1026.5,100.39 1027,100.39 1027.5,100.4 1027.5,142.9 1027,142.9 1026.5,142.9 1026,142.9 1025.5,142.9 1025,142.9 1024.5,142.9 1024,142.9 1023.5,142.91 1023,142.91 1022.5,142.91 1022,142.91 1021.5,142.91 1021,142.91 1020.5,142.91 1020,142.91 1019.5,142.91 1019,142.91 1018.5,142.91 1018,142.91 1017.5,142.91 1017,142.91 1016.5,142.92 1016,142.92 1015.5,142.92 1015,142.92 1014.5,142.92 1014,142.92 1013.5,142.92 1013,142.92 1012.5,142.92 1012,142.92 1011.5,142.92 1011,142.92 1010.5,142.92 1010,142.92 1009.5,142.93 1009,142.93 1008.5,142.93 1008,142.93 1007.5,142.93 1007,142.93 1006.5,142.93 1006,142.93 1005.5,142.93 1005,142.93 1004.5,142.93 1004,142.93 1003.5,142.93 1003,142.93 1002.5,142.93 1002,142.94 1001.5,142.94 1001,142.94 1000.5,142.94 1000,142.94 999.5,142.94 999,142.94 998.5,142.94 998,142.94 997.5,142.94 997,142.94 996.5,142.94 996,142.94 995.5,142.94 995,142.95 994.5,142.95 994,142.95 993.5,142.95 993,142.95 992.5,142.95 992,142.95 991.5,142.95 991,142.95 990.5,142.95 990,142.95 989.5,142.95 989,142.95 988.5,142.95 988,142.96 987.5,142.96 987,142.96 986.5,142.96 986,142.96 985.5,142.96 985,142.96 984.5,142.96 984,142.96 983.5,142.96 983,142.96 982.5,142.96 982,142.96 981.5,142.96 981,142.96 980.5,142.97 980,142.97 979.5,142.97 979,142.97 978.5,142.97 978,142.97 977.5,142.97 977,142.97 976.5,142.97 976,142.97 975.5,142.97 975,142.97 974.5,142.97 974,142.97 973.5,142.98 973,142.98 972.5,142.98 972,142.98 971.5,142.98 971,142.98 970.5,142.98 970,142.98 969.5,142.98 969,142.98 968.5,142.98 968,142.98 967.5,142.98 967,142.98 966.5,142.99 966,142.99 965.5,142.99 965,142.99 964.5,142.99 964,142.99 963.5,142.99 963,142.99 962.5,142.99 962,142.99 961.5,142.99 961,142.99 960.5,142.99 960,142.99 959.5,142.99 959,143 958.5,143 958,143 957.5,143 957,143 956.5,143 956,143 955.5,143.11 955,143.3 954.5,143.49 954,143.68 953.5,143.87 953,144.06 952.5,144.24 952,144.43 951.5,144.62 951,144.81 950.5,145 950,145.19 949.5,145.33 949,145.4 948.5,145.47 948,145.54 947.5,145.61 947,145.68 946.5,145.75 946,145.82 945.5,145.89 945,145.96 944.5,146.03 944,146.1 943.5,146.17 943,146.59 942.5,147.23 942,147.87 941.5,148.52 941,149.16 940.5,149.81 940,150.45 939.5,151.09 939,151.74 938.5,152.38 938,153.03 937.5,153.67 937,154.31 936.5,154.7 936,154.7 935.5,154.7 935,154.7 934.5,154.7 934,154.7 933.5,154.7 933,154.7 932.5,154.7 932,154.7 931.5,154.7 931,154.7 930.5,154.77 930,154.89 929.5,155.02 929,155.14 928.5,155.26 928,155.38 927.5,155.5 927,155.62 926.5,155.74 926,155.86 925.5,155.98 925,156.11 924.5,156.23 924,156.49 923.5,156.98 923,157.46 922.5,157.94 922,158.43 921.5,158.91 921,159.39 920.5,159.87 920,160.36 919.5,160.84 919,161.32 918.5,161.81 918,162.05 917.5,162.12 917,162.2 916.5,162.27 916,162.35 915.5,162.42 915,162.5 914.5,162.58 914,162.65 913.5,162.73 913,162.8 912.5,162.88 912,162.95 911.5,163 911,163 910.5,163 910,163 909.5,163.01 909,163.01 908.5,163.01 908,163.01 907.5,163.01 907,163.01 906.5,163.02 906,163.02 905.5,163.02 905,163.02 904.5,163.02 904,163.02 903.5,163.02 903,163.03 902.5,163.03 902,163.03 901.5,163.03 901,163.03 900.5,163.03 900,163.03 899.5,163.04 899,163.04 898.5,163.04 898,163.04 897.5,163.04 897,163.04 896.5,163.04 896,163.05 895.5,163.05 895,163.05 894.5,163.05 894,163.05 893.5,163.05 893,163.05 892.5,163.06 892,163.06 891.5,163.06 891,163.06 890.5,163.06 890,163.06 889.5,163.06 889,163.07 888.5,163.07 888,163.07 887.5,163.07 887,163.07 886.5,163.07 886,163.07 885.5,163.08 885,163.08 884.5,163.08 884,163.08 883.5,163.08 883,163.08 882.5,163.09 882,163.09 881.5,163.09 881,163.09 880.5,163.09 880,163.09 879.5,163.09 879,163.1 878.5,163.1 878,163.1 877.5,163.1 877,163.1 876.5,163.1 876,163.1 875.5,163.11 875,163.11 874.5,163.11 874,163.11 873.5,163.11 873,163.11 872.5,163.11 872,163.12 871.5,163.12 871,163.12 870.5,163.12 870,163.12 869.5,163.12 869,163.12 868.5,163.13 868,163.13 867.5,163.13 867,163.13 866.5,163.13 866,163.13 865.5,163.13 865,163.14 864.5,163.14 864,163.14 863.5,163.14 863,163.14 862.5,163.14 862,163.14 861.5,163.15 861,163.15 860.5,163.15 860,163.15 859.5,163.15 859,163.15 858.5,163.15 858,163.16 857.5,163.16 857,163.16 856.5,163.16 856,163.16 855.5,163.16 855,163.17 854.5,163.17 854,163.17 853.5,163.17 853,163.17 852.5,163.17 852,163.17 851.5,163.18 851,163.18 850.5,163.18 850,163.18 849.5,163.18 849,163.18 848.5,163.18 848,163.19 847.5,163.19 847,163.19 846.5,163.19 846,163.19 845.5,163.19 845,163.19 844.5,163.2 844,163.2 843.5,163.2 843,163.2 842.5,163.2 842,163.2 841.5,163.2 841,163.21 840.5,163.21 840,163.21 839.5,163.21 839,163.21 838.5,163.21 838,163.21 837.5,163.22 837,163.22 836.5,163.22 836,163.22 835.5,163.22 835,163.22 834.5,163.22 834,163.23 833.5,163.23 833,163.23 832.5,163.23 832,163.23 831.5,163.23 831,163.24 830.5,163.24 830,163.24 829.5,163.24 829,163.24 828.5,163.24 828,163.24 827.5,163.25 827,163.25 826.5,163.25 826,163.25 825.5,163.25 825,163.25 824.5,163.25 824,163.26 823.5,163.26 823,163.26 822.5,163.26 822,163.26 821.5,163.26 821,163.26 820.5,163.27 820,163.27 819.5,163.27 819,163.27 818.5,163.27 818,163.27 817.5,163.27 817,163.28 816.5,163.28 816,163.28 815.5,163.28 815,163.28 814.5,163.28 814,163.28 813.5,163.29 813,163.29 812.5,163.29 812,163.29 811.5,163.29 811,163.29 810.5,163.29 810,163.3 809.5,163.3 809,163.3 808.5,163.93 808,165.51 807.5,167.09 807,168.68 806.5,170.26 806,171.84 805.5,173.42 805,175 804.5,176.67 804,178.34 803.5,180.01 803,181.68 802.5,183.35 802,185.02 801.5,186.69 801,188.36 800.5,190.03 800,191.7 799.5,193.28 799,194.86 798.5,196.44 798,198.02 797.5,199.6 797,201.18 796.5,202.76 796,204.34 795.5,205.92 795,207.5 794.5,208.08 794,208.66 793.5,209.25 793,209.83 792.5,210.41 792,210.99 791.5,211.57 791,212.16 790.5,212.74 790,213.32 789.5,213.9 789,214.49 788.5,215.07 788,215.52 787.5,215.89 787,216.25 786.5,216.62 786,216.99 785.5,217.35 785,217.72 784.5,218.08 784,218.45 783.5,218.82 783,219.18 782.5,219.55 782,219.92 781.5,220.28 781,220.65 780.5,221.02 780,221.38 779.5,221.75 779,222.11 778.5,222.48 778,222.85 777.5,223.21 777,223.58 776.5,224.01 776,224.53 775.5,225.05 775,225.58 774.5,226.1 774,226.62 773.5,227.14 773,227.67 772.5,228.19 772,228.71 771.5,229.23 771,229.76 770.5,230.28 770,230.8 769.5,231.27 769,231.75 768.5,232.22 768,232.7 767.5,233.17 767,233.64 766.5,234.12 766,234.59 765.5,235.07 765,235.54 764.5,236.02 764,236.3 763.5,236.3 763,236.3 762.5,236.3 762,236.3 761.5,236.3 761,236.3 760.5,236.3 760,236.3 759.5,236.3 759,236.3 758.5,236.3 758,236.3 757.5,236.3 757,236.3 756.5,236.3 756,236.3 755.5,236.3 755,236.3 754.5,236.3 754,236.3 753.5,236.3 753,236.3 752.5,236.3 752,236.3 751.5,236.3 751,236.3 750.5,236.3 750,236.3 749.5,236.3 749,236.3 748.5,236.3 748,236.3 747.5,236.3 747,236.3 746.5,236.3 746,236.3 745.5,236.3 745,236.3 744.5,236.3 744,236.3 743.5,236.57 743,237.25 742.5,237.93 742,238.6 741.5,239.28 741,239.96 740.5,240.64 740,241.31 739.5,241.99 739,242.67 738.5,243.35 738,244.02 737.5,244.7 737,244.7 736.5,244.7 736,244.7 735.5,244.7 735,244.7 734.5,244.7 734,244.7 733.5,244.7 733,244.7 732.5,244.7 732,244.7 731.5,244.7 731,244.7 730.5,244.7 730,244.7 729.5,244.7 729,244.7 728.5,244.7 728,244.7 727.5,244.7 727,244.7 726.5,244.7 726,244.7 725.5,244.7 725,244.7 724.5,244.7 724,244.7 723.5,244.7 723,244.7 722.5,244.7 722,244.7 721.5,244.7 721,244.7 720.5,244.7 720,244.7 719.5,244.7 719,244.7 718.5,244.7 718,244.7 717.5,244.7 717,244.7 716.5,244.7 716,244.7 715.5,244.7 715,244.7 714.5,244.7 714,244.7 713.5,244.7 713,244.7 712.5,244.7 712,244.7 711.5,244.7 711,244.7 710.5,244.7 710,244.7 709.5,244.7 709,244.7 708.5,244.7 708,244.7 707.5,244.7 707,244.7 706.5,244.7 706,244.7 705.5,244.7 705,244.7 704.5,244.7 704,244.7 703.5,244.7 703,244.7 702.5,244.7 702,244.7 701.5,244.7 701,244.7 700.5,244.7 700,244.7 699.5,244.7 699,244.7 698.5,244.7 698,244.7 697.5,244.7 697,244.7 696.5,244.7 696,244.7 695.5,244.7 695,244.7 694.5,244.7 694,244.7 693.5,244.7 693,244.7 692.5,244.7 692,244.7 691.5,244.7 691,244.7 690.5,244.7 690,244.7 689.5,244.7 689,244.7 688.5,244.7 688,244.7 687.5,244.7 687,244.7 686.5,244.7 686,244.7 685.5,244.7 685,244.7 684.5,244.7 684,244.7 683.5,244.7 683,244.7 682.5,244.7 682,244.7 681.5,244.7 681,244.7 680.5,244.7 680,244.7 679.5,244.7 679,244.7 678.5,244.7 678,244.7 677.5,244.7 677,244.7 676.5,244.7 676,244.7 675.5,244.7 675,244.7 674.5,244.7 674,244.7 673.5,244.7 673,244.7 672.5,244.7 672,244.7 671.5,244.7 671,244.7 670.5,244.7 670,244.7 669.5,244.7 669,244.7 668.5,244.7 668,244.7 667.5,244.7 667,244.7 666.5,244.7 666,244.7 665.5,244.7 665,244.7 664.5,244.7 664,244.7 663.5,244.7 663,244.7 662.5,244.7 662,244.7 661.5,244.7 661,244.7 660.5,244.7 660,244.7 659.5,244.7 659,244.7 658.5,244.7 658,244.7 657.5,244.7 657,244.7 656.5,244.7 656,244.7 655.5,244.7 655,244.7 654.5,244.7 654,244.7 653.5,244.7 653,244.7 652.5,244.7 652,244.7 651.5,244.7 651,244.7 650.5,244.7 650,244.7 649.5,244.7 649,244.7 648.5,244.7 648,244.7 647.5,244.7 647,244.7 646.5,244.7 646,244.7 645.5,244.7 645,244.7 644.5,244.7 644,244.7 643.5,244.7 643,244.7 642.5,244.7 642,244.7 641.5,244.83 641,245.17 640.5,245.51 640,245.84 639.5,246.18 639,246.51 638.5,246.85 638,247.19 637.5,247.52 637,247.86 636.5,248.19 636,248.53 635.5,248.86 635,249.2 634.5,249.51 634,249.81 633.5,250.12 633,250.42 632.5,250.73 632,251.04 631.5,251.34 631,251.65 630.5,251.95 630,252.26 629.5,252.57 629,252.87 628.5,253.18 628,253.97 627.5,255.09 627,256.21 626.5,257.33 626,258.46 625.5,259.58 625,260.7 624.5,261.82 624,262.94 623.5,264.06 623,265.18 622.5,266.3 622,266.52 621.5,266.73 621,266.95 620.5,267.17 620,267.38 619.5,267.6 619,267.81 618.5,268.03 618,268.25 617.5,268.46 617,268.68 616.5,268.9 616,269.11 615.5,269.69 615,270.51 614.5,271.33 614,272.15 613.5,272.96 613,273.78 612.5,274.6 612,275.42 611.5,276.24 611,277.05 610.5,277.87 610,278.69 609.5,279.51 609,280.25 608.5,280.87 608,281.49 607.5,282.11 607,282.73 606.5,283.34 606,283.96 605.5,284.58 605,285.2 604.5,285.82 604,286.44 603.5,287.06 603,287.68 602.5,288.3 602,288.43 601.5,288.56 601,288.69 600.5,288.82 600,288.95 599.5,289.08 599,289.22 598.5,289.35 598,289.48 597.5,289.61 597,289.74 596.5,289.87 596,290 595.5,290 595,290 594.5,290 594,290 593.5,290 593,290 592.5,290 592,290 591.5,290 591,290 590.5,290 590,290 589.5,290 589,290 588.5,290 588,290 587.5,290 587,290 586.5,290 586,290 585.5,290 585,290 584.5,290 584,290 583.5,290 583,290 582.5,290 582,290 581.5,290 581,290 580.5,290 580,290 579.5,290 579,290 578.5,290 578,290 577.5,290 577,290 576.5,290 576,290 575.5,290 575,290 574.5,290 574,290 573.5,290 573,290 572.5,290 572,290 571.5,290 571,290 570.5,290 570,290 569.5,290 569,290 568.5,290 568,290 567.5,290 567,290 566.5,290 566,290 565.5,290 565,290 564.5,290 564,290 563.5,290 563,290 562.5,290 562,290 561.5,290 561,290 560.5,290 560,290 559.5,290 559,290 558.5,290 558,290 557.5,290 557,290 556.5,290 556,290 555.5,290 555,290 554.5,290 554,290 553.5,290 553,290 552.5,290 552,290 551.5,290 551,290 550.5,290 550,290 549.5,290 549,290 548.5,290 548,290 547.5,290 547,290 546.5,290 546,290 545.5,290 545,290 544.5,290 544,290 543.5,290 543,290 542.5,290 542,290 541.5,290 541,290 540.5,290 540,290 539.5,290 539,290 538.5,290 538,290 537.5,290 537,290 536.5,290 536,290 535.5,290 535,290 534.5,290 534,290 533.5,290 533,290 532.5,290 532,290 531.5,290 531,290 530.5,290.13 530,290.34 529.5,290.56 529,290.78 528.5,290.99 528,291.21 527.5,291.42 527,291.64 526.5,291.85 526,292.07 525.5,292.28 525,292.5 524.5,292.8 524,293.1 523.5,293.4 523,293.7 522.5,294 522,294.3 521.5,294.6 521,294.9 520.5,295.2 520,295.5 519.5,295.8 519,296.45 518.5,297.1 518,297.75 517.5,298.4 517,299.05 516.5,299.7 516,300.34 515.5,300.99 515,301.64 514.5,302.29 514,302.94 513.5,303.59 513,304.24 512.5,304.51 512,304.53 511.5,304.54 511,304.56 510.5,304.57 510,304.59 509.5,304.6 509,304.62 508.5,304.64 508,304.65 507.5,304.67 507,304.68 506.5,304.7 506,305.38 505.5,306.05 505,306.73 504.5,307.4 504,308.07 503.5,308.75 503,309.43 502.5,310.1 502,310.77 501.5,311.45 501,312.12 500.5,312.8 500,312.98 499.5,313.17 499,313.35 498.5,313.53 498,313.72 497.5,313.9 497,314.08 496.5,314.27 496,314.45 495.5,314.63 495,314.82 494.5,315 494,315.3 493.5,315.6 493,315.9 492.5,316.2 492,316.5 491.5,316.8 491,317.1 490.5,317.4 490,317.7 489.5,318 489,318.3 488.5,318.6 488,318.9 487.5,319.2 487,319.67 486.5,320.13 486,320.6 485.5,321.07 485,321.53 484.5,322 484,322.47 483.5,322.93 483,323.4 482.5,323.87 482,324.33 481.5,324.8 481,325.27 480.5,325.73 480,326.2 479.5,326.2 479,326.2 478.5,326.2 478,326.2 477.5,326.2 477,326.2 476.5,326.2 476,326.2 475.5,326.2 475,326.2 474.5,326.2 474,326.2 473.5,326.2 473,326.2 472.5,326.2 472,326.2 471.5,326.2 471,326.2 470.5,326.2 470,326.2 469.5,326.2 469,326.2 468.5,326.2 468,326.2 467.5,326.2 467,326.2 466.5,326.2 466,326.2 465.5,326.2 465,326.2 464.5,326.2 464,326.2 463.5,326.2 463,326.2 462.5,326.2 462,326.2 461.5,326.2 461,326.2 460.5,326.2 460,326.2 459.5,326.2 459,326.2 458.5,326.2 458,326.2 457.5,326.2 457,326.2 456.5,326.2 456,326.2 455.5,326.2 455,326.2 454.5,326.2 454,326.2 453.5,326.2 453,326.2 452.5,326.2 452,326.2 451.5,326.2 451,326.2 450.5,326.2 450,326.2 449.5,326.2 449,326.1 448.5,325.87 448,325.63 447.5,325.39 447,325.15 446.5,324.91 446,324.67 445.5,324.43 445,324.19 444.5,323.96 444,323.72 443.5,323.48 443,323.24 442.5,323 442,322.5 441.5,322 441,321.5 440.5,321 440,320.5 439.5,320 439,319.5 438.5,319 438,318.5 437.5,318 437,317.5 436.5,317 436,316.5 435.5,315.94 435,315.33 434.5,314.72 434,314.12 433.5,313.51 433,312.91 432.5,312.3 432,311.69 431.5,311.09 431,310.48 430.5,309.88 430,309.27 429.5,308.66 429,308.3 428.5,308.3 428,308.3 427.5,308.3 427,308.3 426.5,308.3 426,308.3 425.5,308.3 425,308.3 424.5,308.3 424,308.3 423.5,308.3 423,308.3 422.5,308.3 422,308.3 421.5,308.3 421,308.3 420.5,308.3 420,308.3 419.5,308.3 419,308.3 418.5,308.3 418,308.3 417.5,308.3 417,308.3 416.5,308.3 416,308.3 415.5,308.3 415,308.3 414.5,308.3 414,308.3 413.5,308.3 413,308.3 412.5,308.3 412,308.3 411.5,308.3 411,308.3 410.5,308.3 410,308.3 409.5,308.3 409,308.3 408.5,308.3 408,308.3 407.5,308.3 407,308.3 406.5,308.3 406,308.3 405.5,308.3 405,308.3 404.5,308.3 404,308.3 403.5,308.3 403,308.3 402.5,308.3 402,308.3 401.5,308.3 401,308.3 400.5,308.3 400,308.3 399.5,308.3 399,308.3 398.5,308.3 398,308.3 397.5,308.3 397,308.3 396.5,308.25 396,308.11 395.5,307.97 395,307.84 394.5,307.7 394,307.57 393.5,307.43 393,307.3 392.5,307.16 392,307.03 391.5,306.89 391,306.75 390.5,306.52 390,306.23 389.5,305.93 389,305.64 388.5,305.34 388,305.05 387.5,304.75 387,304.45 386.5,304.16 386,303.86 385.5,303.57 385,303.27 384.5,302.98 384,302.8 383.5,302.8 383,302.8 382.5,302.8 382,302.8 381.5,302.8 381,302.8 380.5,302.8 380,302.8 379.5,302.8 379,302.8 378.5,302.8 378,302.81 377.5,302.81 377,302.81 376.5,302.81 376,302.81 375.5,302.81 375,302.81 374.5,302.81 374,302.81 373.5,302.81 373,302.81 372.5,302.81 372,302.81 371.5,302.81 371,302.81 370.5,302.81 370,302.81 369.5,302.81 369,302.81 368.5,302.81 368,302.81 367.5,302.81 367,302.81 366.5,302.82 366,302.82 365.5,302.82 365,302.82 364.5,302.82 364,302.82 363.5,302.82 363,302.82 362.5,302.82 362,302.82 361.5,302.82 361,302.82 360.5,302.82 360,302.82 359.5,302.82 359,302.82 358.5,302.82 358,302.82 357.5,302.82 357,302.82 356.5,302.82 356,302.82 355.5,302.82 355,302.83 354.5,302.83 354,302.83 353.5,302.83 353,302.83 352.5,302.83 352,302.83 351.5,302.83 351,302.83 350.5,302.83 350,302.83 349.5,302.83 349,302.83 348.5,302.83 348,302.83 347.5,302.83 347,302.83" fill="rgba(67,160,71,0.125)"/>
<polyline points="10,306.7 13.3,303.3 18.3,292.5 25,290.8 31.7,285.8 37.5,276.7 44.2,260.8 50,253.3 57.2,249.7 70,247 82.5,241.3 108.3,241.3 115,243.7 121.3,248.3 134.2,256.7 140.5,255.3 146.7,254.7 153.3,304.5 160,310 166.7,312.5 173.3,314.7 178.3,315.8 183.3,322.5 186.7,325 193.3,326 198.3,328.3 204.2,330.3 210,327.5 216.7,327.8 223.3,329.5 230,330.3 236.7,330.3 243.3,327.5 255.8,322.8 261.7,322.5 268.3,328.3 275,332.2 288.3,332.2 294.5,341.2 300.8,341.7 307,337.2 320,330.8 327.5,329.2 333.3,325.8 339.5,309.2 345.8,308.3 352.5,300.8 364,291.3 380,289.5 385.8,287.2 395,287.5 401.7,290.5 410,294.2 415.8,294.5 423.3,297 430,298 435.8,297.5 442.5,292.5 449.2,285.8 455,285.8 461.7,284.2 467.5,278 474.2,275 480,274.2 487.5,273.8 494.5,266.7 500.5,260 506.5,251.7 512.8,249.7 519.5,247 525,246.7 530.8,244.5 538.3,243.7 546.7,243 565,243.3 570.8,248.7 576.7,245.5 583.3,247.2 596.7,247.2 603.3,244.2 609.2,241.3 615.8,243.7 622.5,237.5 628.3,223.8 641.7,223.8 648.3,220.5 660.8,219.7 667.5,215.5 673.3,215.3 680,211.3 685.8,212.2 692.5,215 711.7,214.7 718.3,213.2 731.7,213.2 738.3,215.2 750,214.7 757.5,211.7 763.3,210.5 770,210.8 776.7,207.5 783.3,201.7 790,195 795,185.8 800,168.3 805,150 808.3,139.5 820.8,139.5 827.5,134.5 860,134.5 866.7,148.8 872.5,149.2 879.2,145.5 885,145.3 891.7,143 898.3,136.7 904.2,130.8 911.7,125.8 918.3,122.5 924.2,120.5 930,120 936.7,115.3 943.3,113.7 949.7,106.3 955.8,105.3 963.3,105.3 969.5,104.7 975.8,113.3 994.2,113.7 1000.8,111.2 1007.5,105.3 1014.2,102.5 1020,100.3 1027.5,100.4" fill="none" stroke="#a5d6a7" stroke-width="1.1" stroke-linejoin="round"/>
<polyline points="10,323.3 17.5,316.7 26.7,314.5 35,310.3 40,305 43.3,295.8 48.3,292.5 56.7,290.8 148.3,290.8 150,298.3 152.5,303 384.2,302.8 390.8,306.7 396.7,308.3 429.2,308.3 435.8,316.3 442.5,323 449.2,326.2 480,326.2 487.5,319.2 494.5,315 500.5,312.8 506.5,304.7 512.8,304.5 519.5,295.8 525,292.5 530.8,290 596,290 602.5,288.3 609.2,280 615.8,269.2 622.5,266.3 628.3,253.3 635,249.2 641.7,244.7 737.5,244.7 743.7,236.3 764.2,236.3 770,230.8 776.7,223.8 788.3,215.3 795,207.5 800,191.7 805,175 808.7,163.3 911.7,163 918.3,162 924.2,156.3 930.8,154.7 936.7,154.7 943.3,146.2 949.7,145.3 955.8,143 1027.5,142.9" fill="none" stroke="#faa1a4" stroke-width="1.1" stroke-linejoin="round"/>
<polyline points="10,325.3 17.5,327.2 18.7,328.3 25,345.8 31.3,347.5 37.5,353.3 44.2,357.2 49.2,352.5 75.8,352.5 86.7,343 95,337 100.8,336.3 108.3,342 116.7,342 121.3,339.7 126.7,336.3 140,335.8 146.7,328 153.3,324.7 158.3,324.2 166.7,322 172.5,315 178.8,293.3 185,291.7 197.5,283.3 204.2,274.2 218.3,274.2 222.5,269.2 225.8,265.8 233.3,266.7 236.7,268.3 243.3,274.2 249.5,280 255.8,280.3 262.5,285 266.7,286.7 282.5,286.7 287.5,284.7 295,284.2 300.8,281.3 307,273 313.3,272.5 320,269.7 327.5,269.2 333.3,260 339.5,248.3 346.7,240 352.5,237 359.2,233.3 365,233 371.7,227.5 380,227 401.7,225.5 405,228.3 410.5,237 415.8,237.8 422.5,241.7 446.7,242 455,247 461.7,238.3 465,230 467.5,223.7 480,223.3 487.5,217.5 494.5,215.5 500.5,215 506.5,206.7 512.8,206.2 519.5,198.8 523.3,199.7 530.8,204.7 551.5,204.7 558.5,202.2 570.8,202.2 575,205.3 610,205.3 615,206.3 622.5,198.3 629.5,191.7 633.3,185.8 638.3,170 643.3,151.7 648.5,135.8 658.3,135.8 663.3,130.8 667,125.3 673.3,126.2 699.2,126.2 701.7,131.7 705.8,154.2 712.5,154.5 719.2,148 725.5,147.5 731.5,143.3 738.3,130 744.2,121.7 751.7,114.2 757.5,109.2 764.5,105.8 770.5,104.5 776.5,104.2 782.5,101.7 789.5,87.5 792.5,85.8 802.5,84.2 808.5,83.8 813.3,90.8 815.5,94.2 860.5,94.2 866.5,100.2" fill="none" stroke="#2196f3" stroke-width="1.2" stroke-linejoin="round"/>
<polyline points="10,303 57.5,303 63.3,306.7 70,308.7 100.8,308.7 106.7,315 114.2,323.3 121.3,326.7 127.5,327.8 130,335 133.7,346.3 140,347.5 146.7,345.8 153.3,342.5 159.2,336.3 172.5,336.3 179.2,325.3 185.8,324.7 191.7,314.2 198.3,310 204.2,308.3 268.3,308.3 275,305.8 280,299.2 285.8,288.3 288.3,287.2 300.8,287.2 307,282.5 313.7,278.3 327.5,277.8 333.3,273.8 339.5,271.3 345.8,263.3 352.5,263 359.2,260.5 410.5,260.5 417,252.5 436.3,252.5 442.8,247.3 449.2,240 455.6,240 462,236.9 468.5,223.8 590.5,223.8 597,217.5 602.5,215.5 609,215.5 616,206.7 622.5,199.2 629,195 635,186.7 641.5,165 648.5,143.3 737.5,143.3 744.5,138.3 751.5,135.5 770.5,135.5 776.5,126.3 808.5,126.3 815.5,132.8 834.5,132.8 841.5,128 847.5,116 853.5,110.8 860.5,106.7 866.5,100.4" fill="none" stroke="#801922" stroke-width="1.2" stroke-linejoin="round"/>
<polyline points="10,278.5 12.5,275.5 18.5,253.8 25.5,257.8 31.5,250.3 37.5,256.2 44.5,259.7 50.5,267.5 57.5,275.5 63.5,264.2 70.5,283.3 76.5,277 82.5,297 89.5,296.2 95.5,277 102.5,285 108.5,296.7 115.5,285 121.5,260.3 127.5,258.3 134.5,260.3 140.5,249.5 147.5,248 153.5,248.7 160.5,240.8 166.5,242.5 172.5,237.5 179.5,229.7 185.5,222 192.5,222 198.5,210 205.5,215.8 211.5,213.3 217.5,238.3 224.5,225 230.5,212.2 237.5,224.2 243.5,224.5 249.5,237 256.5,262 262.5,267.5 269.5,251.3 275.5,243.8 282.5,254.2 288.5,231.7 294.5,235.5 301.5,200 307.5,177 314.5,187.5 320.5,206.7 327.5,198 333.5,197.2 339.5,204.2 346.5,214.2 352.5,214.7 359.5,223 365.5,216.5 372.5,193 378.5,199.2 384.5,193.5 391.5,182.8 397.5,185.8 404.5,190 410.5,192 417.5,217.5 423.5,201.7 429.5,195.3 436.5,185 442.5,188.7 449.5,185 455.5,180.8 462.5,166 468.5,157 474.5,140.8 481.5,96.3 487.5,130 494.5,117.5 500.5,167.5 506.5,184.2 513.5,187 519.5,165.8 526.5,153 532.5,137.5 539.5,129.2 545.5,126.3 551.5,112.5 558.5,98.3 564.5,110.8 571.5,105.3 577.5,99.2 584.5,90.5 590.5,92.8 596.5,88.8 603.5,88.3 609.5,78 616.5,75.8 622.5,70.3 629.5,78.3 635.5,86.2 641.5,70.5 648.5,79.7 654.5,111.8 661.5,89.7 667.5,93.8 674.5,96.7 680.5,102.2 686.5,107.5 693.5,95 699.5,110.5 706.5,112.7" fill="none" stroke="#43a047" stroke-width="1.2" stroke-linejoin="round"/>
<polyline points="10,392.8 195,353 380,317.5 430,308.3 480,299.2 518.3,294.7 565,289.8 606.7,284.7 648.3,277.5 698.3,269.5 750,261.3 866.5,241.5" fill="none" stroke="#26c6da" stroke-width="1.15" stroke-linejoin="round"/>
<polyline points="10,303 56.7,303 81.7,302.2 113.3,305 143.3,305 195,302 250,298 281.7,296.2 328.3,290.8 361.7,285 380,282.3 413.3,277.5 446.7,275 480,270.5 513.3,268.7 538.3,268.3 565,266.5 581.7,266.3 598.3,265 615,262.5 631.7,258.3 648.3,252.5 673.3,244.2 698.3,236.9 720,230 741.7,220.8 766.7,211.3 783.3,205.5 808.3,197.2 833.3,190.8 866.5,183.1" fill="none" stroke="#2196f3" stroke-width="1.25" stroke-linejoin="round"/>
<polyline points="10,281.7 31.7,283.7 60,285 85,286.7 101.7,290 110,291.3 143.3,292.5 176.7,294.5 195,295 211.7,297.5 228.3,300.3 245,304.2 261.7,308 275,309.5 288.3,309.2 305,307 320,301.7 333.3,297.5 345,291.7 361.7,284.7 380,279.2 396.7,273.3 413.3,267.5 430,262 446.7,257.5 463.3,251.7 480,247 496.7,243.5 518.3,241.3 530,239.2 546.7,235.7 565,229.5 590,222.5 610,217.5 631.7,210.8 653.3,203 675,200 691.7,196.7 700,194.7 716.7,188.3 730,183.3 743.3,176.3 758.3,168.8 776.7,160 793.3,154.2 815,146.7 833.3,139.5 850,134.7 866.5,130.2" fill="none" stroke="#ff6d00" stroke-width="1.25" stroke-linejoin="round"/>
<line x1="10" y1="113.5" x2="1044" y2="113.5" stroke="#f23645" stroke-width="1" stroke-dasharray="1 2"/>
<line x1="12.5" y1="329.17" x2="12.5" y2="346.67" stroke="#f23645" stroke-width="1"/>
<rect x="10.0" y="329.17" width="5" height="6.33" fill="#f23645"/>
<line x1="18.5" y1="327.5" x2="18.5" y2="367.5" stroke="#f23645" stroke-width="1"/>
<rect x="16.0" y="335" width="5" height="30.83" fill="#f23645"/>
<line x1="25.5" y1="355" x2="25.5" y2="397.5" stroke="#089981" stroke-width="1"/>
<rect x="23.0" y="359.17" width="5" height="6.67" fill="#089981"/>
<line x1="31.5" y1="347.5" x2="31.5" y2="386.67" stroke="#f23645" stroke-width="1"/>
<rect x="29.0" y="359.17" width="5" height="17.5" fill="#f23645"/>
<line x1="37.5" y1="350" x2="37.5" y2="379.67" stroke="#089981" stroke-width="1"/>
<rect x="35.0" y="355" width="5" height="24.67" fill="#089981"/>
<line x1="44.5" y1="306.33" x2="44.5" y2="367.5" stroke="#089981" stroke-width="1"/>
<rect x="42.0" y="318" width="5" height="37.83" fill="#089981"/>
<line x1="50.5" y1="315.33" x2="50.5" y2="340.5" stroke="#f23645" stroke-width="1"/>
<rect x="48.0" y="318" width="5" height="16.67" fill="#f23645"/>
<line x1="57.5" y1="333" x2="57.5" y2="353.33" stroke="#f23645" stroke-width="1"/>
<rect x="55.0" y="333.83" width="5" height="14" fill="#f23645"/>
<line x1="63.5" y1="337" x2="63.5" y2="353.33" stroke="#089981" stroke-width="1"/>
<rect x="61.0" y="340" width="5" height="7.83" fill="#089981"/>
<line x1="70.5" y1="340" x2="70.5" y2="340.83" stroke="#089981" stroke-width="1"/>
<rect x="68.0" y="339.92" width="5" height="1" fill="#089981"/>
<line x1="76.5" y1="330" x2="76.5" y2="344.67" stroke="#089981" stroke-width="1"/>
<rect x="74.0" y="331.17" width="5" height="12.5" fill="#089981"/>
<line x1="82.5" y1="310.33" x2="82.5" y2="333.83" stroke="#089981" stroke-width="1"/>
<rect x="80.0" y="327.17" width="5" height="4.5" fill="#089981"/>
<line x1="89.5" y1="325.83" x2="89.5" y2="359.67" stroke="#f23645" stroke-width="1"/>
<rect x="87.0" y="327" width="5" height="21.67" fill="#f23645"/>
<line x1="95.5" y1="338" x2="95.5" y2="363.67" stroke="#f23645" stroke-width="1"/>
<rect x="93.0" y="348.33" width="5" height="15.33" fill="#f23645"/>
<line x1="102.5" y1="360" x2="102.5" y2="360.83" stroke="#089981" stroke-width="1"/>
<rect x="100.0" y="359.92" width="5" height="1" fill="#089981"/>
<line x1="108.5" y1="350" x2="108.5" y2="373.67" stroke="#f23645" stroke-width="1"/>
<rect x="106.0" y="364.17" width="5" height="5.5" fill="#f23645"/>
<line x1="115.5" y1="341.33" x2="115.5" y2="370.83" stroke="#089981" stroke-width="1"/>
<rect x="113.0" y="348.33" width="5" height="21.67" fill="#089981"/>
<line x1="121.5" y1="305.83" x2="121.5" y2="354.67" stroke="#089981" stroke-width="1"/>
<rect x="119.0" y="311.33" width="5" height="37.33" fill="#089981"/>
<line x1="127.5" y1="298.3" x2="127.5" y2="315.8" stroke="#089981" stroke-width="1"/>
<rect x="125.0" y="311.1" width="5" height="1" fill="#089981"/>
<line x1="134.5" y1="308" x2="134.5" y2="322.6" stroke="#f23645" stroke-width="1"/>
<rect x="132.0" y="312" width="5" height="7.7" fill="#f23645"/>
<line x1="140.5" y1="316.2" x2="140.5" y2="332.6" stroke="#089981" stroke-width="1"/>
<rect x="138.0" y="319.1" width="5" height="1" fill="#089981"/>
<line x1="147.5" y1="281.2" x2="147.5" y2="324.7" stroke="#089981" stroke-width="1"/>
<rect x="145.0" y="281.2" width="5" height="38.4" fill="#089981"/>
<line x1="153.5" y1="275.3" x2="153.5" y2="290" stroke="#f23645" stroke-width="1"/>
<rect x="151.0" y="281.2" width="5" height="7.6" fill="#f23645"/>
<line x1="160.5" y1="282.2" x2="160.5" y2="306.7" stroke="#f23645" stroke-width="1"/>
<rect x="158.0" y="288.3" width="5" height="16.4" fill="#f23645"/>
<line x1="166.5" y1="282.2" x2="166.5" y2="305.5" stroke="#089981" stroke-width="1"/>
<rect x="164.0" y="285" width="5" height="20.5" fill="#089981"/>
<line x1="172.5" y1="276.2" x2="172.5" y2="292.6" stroke="#089981" stroke-width="1"/>
<rect x="170.0" y="276.2" width="5" height="9.6" fill="#089981"/>
<line x1="179.5" y1="253" x2="179.5" y2="278.7" stroke="#089981" stroke-width="1"/>
<rect x="177.0" y="254.2" width="5" height="22.5" fill="#089981"/>
<line x1="185.5" y1="251.3" x2="185.5" y2="265.5" stroke="#f23645" stroke-width="1"/>
<rect x="183.0" y="254.2" width="5" height="4.5" fill="#f23645"/>
<line x1="192.5" y1="242.2" x2="192.5" y2="262.5" stroke="#089981" stroke-width="1"/>
<rect x="190.0" y="251.3" width="5" height="7.4" fill="#089981"/>
<line x1="198.5" y1="248" x2="198.5" y2="263.67" stroke="#f23645" stroke-width="1"/>
<rect x="196.0" y="252.17" width="5" height="4.5" fill="#f23645"/>
<line x1="205.5" y1="245" x2="205.5" y2="269.67" stroke="#f23645" stroke-width="1"/>
<rect x="203.0" y="256.33" width="5" height="4.17" fill="#f23645"/>
<line x1="211.5" y1="255" x2="211.5" y2="278.67" stroke="#f23645" stroke-width="1"/>
<rect x="209.0" y="260.33" width="5" height="7.17" fill="#f23645"/>
<line x1="217.5" y1="259.17" x2="217.5" y2="283.67" stroke="#f23645" stroke-width="1"/>
<rect x="215.0" y="267.17" width="5" height="9.5" fill="#f23645"/>
<line x1="224.5" y1="260.33" x2="224.5" y2="281.67" stroke="#089981" stroke-width="1"/>
<rect x="222.0" y="264.17" width="5" height="12.5" fill="#089981"/>
<line x1="230.5" y1="262.17" x2="230.5" y2="289.67" stroke="#f23645" stroke-width="1"/>
<rect x="228.0" y="263.33" width="5" height="21.33" fill="#f23645"/>
<line x1="237.5" y1="272.5" x2="237.5" y2="293.67" stroke="#089981" stroke-width="1"/>
<rect x="235.0" y="277.17" width="5" height="7.5" fill="#089981"/>
<line x1="243.5" y1="273.33" x2="243.5" y2="305.3" stroke="#f23645" stroke-width="1"/>
<rect x="241.0" y="277" width="5" height="21" fill="#f23645"/>
<line x1="249.5" y1="294.2" x2="249.5" y2="315.8" stroke="#089981" stroke-width="1"/>
<rect x="247.0" y="295.8" width="5" height="1" fill="#089981"/>
<line x1="256.5" y1="273" x2="256.5" y2="296.67" stroke="#089981" stroke-width="1"/>
<rect x="254.0" y="277" width="5" height="19.67" fill="#089981"/>
<line x1="262.5" y1="273" x2="262.5" y2="289.67" stroke="#f23645" stroke-width="1"/>
<rect x="260.0" y="276.33" width="5" height="9.17" fill="#f23645"/>
<line x1="269.5" y1="281.17" x2="269.5" y2="298.33" stroke="#f23645" stroke-width="1"/>
<rect x="267.0" y="285.33" width="5" height="12.17" fill="#f23645"/>
<line x1="275.5" y1="284.17" x2="275.5" y2="298.67" stroke="#089981" stroke-width="1"/>
<rect x="273.0" y="286.17" width="5" height="11.67" fill="#089981"/>
<line x1="282.5" y1="259.17" x2="282.5" y2="288.33" stroke="#089981" stroke-width="1"/>
<rect x="280.0" y="260.33" width="5" height="26.33" fill="#089981"/>
<line x1="288.5" y1="254.17" x2="288.5" y2="262.83" stroke="#089981" stroke-width="1"/>
<rect x="286.0" y="258.33" width="5" height="2.5" fill="#089981"/>
<line x1="294.5" y1="257.17" x2="294.5" y2="270.5" stroke="#f23645" stroke-width="1"/>
<rect x="292.0" y="259.17" width="5" height="2.5" fill="#f23645"/>
<line x1="301.5" y1="246.33" x2="301.5" y2="263.67" stroke="#089981" stroke-width="1"/>
<rect x="299.0" y="250.33" width="5" height="11.33" fill="#089981"/>
<line x1="307.5" y1="248.33" x2="307.5" y2="259.67" stroke="#089981" stroke-width="1"/>
<rect x="305.0" y="248.33" width="5" height="2.5" fill="#089981"/>
<line x1="314.5" y1="246.17" x2="314.5" y2="259.67" stroke="#f23645" stroke-width="1"/>
<rect x="312.0" y="248.08" width="5" height="1" fill="#f23645"/>
<line x1="320.5" y1="240" x2="320.5" y2="249.5" stroke="#089981" stroke-width="1"/>
<rect x="318.0" y="241.17" width="5" height="8.33" fill="#089981"/>
<line x1="327.5" y1="240.83" x2="327.5" y2="249.67" stroke="#089981" stroke-width="1"/>
<rect x="325.0" y="242.25" width="5" height="1" fill="#089981"/>
<line x1="333.5" y1="232.17" x2="333.5" y2="245" stroke="#089981" stroke-width="1"/>
<rect x="331.0" y="237.17" width="5" height="5.67" fill="#089981"/>
<line x1="339.5" y1="228.33" x2="339.5" y2="239.67" stroke="#089981" stroke-width="1"/>
<rect x="337.0" y="230" width="5" height="7.83" fill="#089981"/>
<line x1="346.5" y1="211.33" x2="346.5" y2="230.5" stroke="#089981" stroke-width="1"/>
<rect x="344.0" y="222.17" width="5" height="8.33" fill="#089981"/>
<line x1="352.5" y1="216.33" x2="352.5" y2="225.83" stroke="#f23645" stroke-width="1"/>
<rect x="350.0" y="221.83" width="5" height="1" fill="#f23645"/>
<line x1="359.5" y1="206.33" x2="359.5" y2="227.5" stroke="#089981" stroke-width="1"/>
<rect x="357.0" y="210.33" width="5" height="12.17" fill="#089981"/>
<line x1="365.5" y1="209.17" x2="365.5" y2="221.67" stroke="#f23645" stroke-width="1"/>
<rect x="363.0" y="210" width="5" height="6.67" fill="#f23645"/>
<line x1="372.5" y1="212" x2="372.5" y2="225" stroke="#089981" stroke-width="1"/>
<rect x="370.0" y="214.17" width="5" height="2.5" fill="#089981"/>
<line x1="378.5" y1="213.33" x2="378.5" y2="245.83" stroke="#f23645" stroke-width="1"/>
<rect x="376.0" y="214.17" width="5" height="25.5" fill="#f23645"/>
<line x1="384.5" y1="220" x2="384.5" y2="240.83" stroke="#089981" stroke-width="1"/>
<rect x="382.0" y="225.33" width="5" height="14.33" fill="#089981"/>
<line x1="391.5" y1="210" x2="391.5" y2="228.67" stroke="#089981" stroke-width="1"/>
<rect x="389.0" y="212.17" width="5" height="15.67" fill="#089981"/>
<line x1="397.5" y1="211.33" x2="397.5" y2="227.5" stroke="#f23645" stroke-width="1"/>
<rect x="395.0" y="212.17" width="5" height="12.83" fill="#f23645"/>
<line x1="404.5" y1="221.33" x2="404.5" y2="234.67" stroke="#089981" stroke-width="1"/>
<rect x="402.0" y="224.08" width="5" height="1" fill="#089981"/>
<line x1="410.5" y1="223.33" x2="410.5" y2="268" stroke="#f23645" stroke-width="1"/>
<rect x="408.0" y="224.17" width="5" height="13.33" fill="#f23645"/>
<line x1="417.5" y1="236.33" x2="417.5" y2="265.8" stroke="#f23645" stroke-width="1"/>
<rect x="415.0" y="238.33" width="5" height="24.17" fill="#f23645"/>
<line x1="423.5" y1="259.2" x2="423.5" y2="273.7" stroke="#f23645" stroke-width="1"/>
<rect x="421.0" y="261.2" width="5" height="7.6" fill="#f23645"/>
<line x1="429.5" y1="247.2" x2="429.5" y2="272.5" stroke="#089981" stroke-width="1"/>
<rect x="427.0" y="252.5" width="5" height="16.3" fill="#089981"/>
<line x1="436.5" y1="240.3" x2="436.5" y2="260" stroke="#089981" stroke-width="1"/>
<rect x="434.0" y="244.2" width="5" height="8.3" fill="#089981"/>
<line x1="442.5" y1="241.7" x2="442.5" y2="256.7" stroke="#f23645" stroke-width="1"/>
<rect x="440.0" y="244.2" width="5" height="10.5" fill="#f23645"/>
<line x1="449.5" y1="230.83" x2="449.5" y2="256.7" stroke="#089981" stroke-width="1"/>
<rect x="447.0" y="232" width="5" height="22.7" fill="#089981"/>
<line x1="455.5" y1="226.33" x2="455.5" y2="239.67" stroke="#f23645" stroke-width="1"/>
<rect x="453.0" y="232.17" width="5" height="4.5" fill="#f23645"/>
<line x1="462.5" y1="200" x2="462.5" y2="238.33" stroke="#089981" stroke-width="1"/>
<rect x="460.0" y="202" width="5" height="34.67" fill="#089981"/>
<line x1="468.5" y1="174.17" x2="468.5" y2="205.83" stroke="#089981" stroke-width="1"/>
<rect x="466.0" y="177" width="5" height="25.5" fill="#089981"/>
<line x1="474.5" y1="174.17" x2="474.5" y2="193.83" stroke="#f23645" stroke-width="1"/>
<rect x="472.0" y="177" width="5" height="11.67" fill="#f23645"/>
<line x1="481.5" y1="184.17" x2="481.5" y2="209.67" stroke="#f23645" stroke-width="1"/>
<rect x="479.0" y="188" width="5" height="20" fill="#f23645"/>
<line x1="487.5" y1="196.17" x2="487.5" y2="213.67" stroke="#089981" stroke-width="1"/>
<rect x="485.0" y="199.17" width="5" height="8.83" fill="#089981"/>
<line x1="494.5" y1="192.17" x2="494.5" y2="200.83" stroke="#089981" stroke-width="1"/>
<rect x="492.0" y="197.5" width="5" height="2.5" fill="#089981"/>
<line x1="500.5" y1="192.17" x2="500.5" y2="210.83" stroke="#f23645" stroke-width="1"/>
<rect x="498.0" y="197.17" width="5" height="8.67" fill="#f23645"/>
<line x1="506.5" y1="203" x2="506.5" y2="217" stroke="#f23645" stroke-width="1"/>
<rect x="504.0" y="205.33" width="5" height="10.5" fill="#f23645"/>
<line x1="513.5" y1="211.33" x2="513.5" y2="220.83" stroke="#f23645" stroke-width="1"/>
<rect x="511.0" y="213.75" width="5" height="1" fill="#f23645"/>
<line x1="519.5" y1="212.17" x2="519.5" y2="224.17" stroke="#f23645" stroke-width="1"/>
<rect x="517.0" y="215.33" width="5" height="7.67" fill="#f23645"/>
<line x1="526.5" y1="213.33" x2="526.5" y2="226.67" stroke="#089981" stroke-width="1"/>
<rect x="524.0" y="216.33" width="5" height="6.67" fill="#089981"/>
<line x1="532.5" y1="193" x2="532.5" y2="218.67" stroke="#089981" stroke-width="1"/>
<rect x="530.0" y="193" width="5" height="23.67" fill="#089981"/>
<line x1="539.5" y1="183" x2="539.5" y2="204.17" stroke="#f23645" stroke-width="1"/>
<rect x="537.0" y="194.17" width="5" height="6.33" fill="#f23645"/>
<line x1="545.5" y1="192" x2="545.5" y2="209.67" stroke="#089981" stroke-width="1"/>
<rect x="543.0" y="193" width="5" height="6.67" fill="#089981"/>
<line x1="551.5" y1="183" x2="551.5" y2="199.67" stroke="#089981" stroke-width="1"/>
<rect x="549.0" y="183" width="5" height="10.67" fill="#089981"/>
<line x1="558.5" y1="177" x2="558.5" y2="190" stroke="#f23645" stroke-width="1"/>
<rect x="556.0" y="183" width="5" height="3.67" fill="#f23645"/>
<line x1="564.5" y1="184.5" x2="564.5" y2="193" stroke="#f23645" stroke-width="1"/>
<rect x="562.0" y="185.8" width="5" height="5" fill="#f23645"/>
<line x1="571.5" y1="187" x2="571.5" y2="201.67" stroke="#f23645" stroke-width="1"/>
<rect x="569.0" y="190" width="5" height="2.83" fill="#f23645"/>
<line x1="577.5" y1="191.67" x2="577.5" y2="233.7" stroke="#f23645" stroke-width="1"/>
<rect x="575.0" y="191.67" width="5" height="27.03" fill="#f23645"/>
<line x1="584.5" y1="192" x2="584.5" y2="225.3" stroke="#089981" stroke-width="1"/>
<rect x="582.0" y="202.17" width="5" height="16.53" fill="#089981"/>
<line x1="590.5" y1="187" x2="590.5" y2="206.67" stroke="#089981" stroke-width="1"/>
<rect x="588.0" y="195" width="5" height="8" fill="#089981"/>
<line x1="596.5" y1="185" x2="596.5" y2="201.67" stroke="#089981" stroke-width="1"/>
<rect x="594.0" y="185" width="5" height="10.83" fill="#089981"/>
<line x1="603.5" y1="182" x2="603.5" y2="193.83" stroke="#f23645" stroke-width="1"/>
<rect x="601.0" y="185" width="5" height="5" fill="#f23645"/>
<line x1="609.5" y1="180" x2="609.5" y2="218.3" stroke="#089981" stroke-width="1"/>
<rect x="607.0" y="186.17" width="5" height="3.83" fill="#089981"/>
<line x1="616.5" y1="179.17" x2="616.5" y2="192.83" stroke="#089981" stroke-width="1"/>
<rect x="614.0" y="181.17" width="5" height="5.5" fill="#089981"/>
<line x1="622.5" y1="166.17" x2="622.5" y2="187.83" stroke="#089981" stroke-width="1"/>
<rect x="620.0" y="167.17" width="5" height="14.83" fill="#089981"/>
<line x1="629.5" y1="157" x2="629.5" y2="172.83" stroke="#089981" stroke-width="1"/>
<rect x="627.0" y="158" width="5" height="10.83" fill="#089981"/>
<line x1="635.5" y1="140" x2="635.5" y2="162.83" stroke="#089981" stroke-width="1"/>
<rect x="633.0" y="142" width="5" height="16.83" fill="#089981"/>
<line x1="641.5" y1="95" x2="641.5" y2="151.67" stroke="#089981" stroke-width="1"/>
<rect x="639.0" y="96.2" width="5" height="46.3" fill="#089981"/>
<line x1="648.5" y1="51.7" x2="648.5" y2="167.83" stroke="#f23645" stroke-width="1"/>
<rect x="646.0" y="96.2" width="5" height="34.63" fill="#f23645"/>
<line x1="654.5" y1="111.7" x2="654.5" y2="137.83" stroke="#089981" stroke-width="1"/>
<rect x="652.0" y="117" width="5" height="14.67" fill="#089981"/>
<line x1="661.5" y1="109.2" x2="661.5" y2="198.83" stroke="#f23645" stroke-width="1"/>
<rect x="659.0" y="117" width="5" height="51.67" fill="#f23645"/>
<line x1="667.5" y1="134.17" x2="667.5" y2="195.83" stroke="#f23645" stroke-width="1"/>
<rect x="665.0" y="168" width="5" height="16.67" fill="#f23645"/>
<line x1="674.5" y1="182" x2="674.5" y2="200" stroke="#f23645" stroke-width="1"/>
<rect x="672.0" y="185" width="5" height="2.83" fill="#f23645"/>
<line x1="680.5" y1="162.17" x2="680.5" y2="190.83" stroke="#089981" stroke-width="1"/>
<rect x="678.0" y="166.17" width="5" height="21.67" fill="#089981"/>
<line x1="686.5" y1="150" x2="686.5" y2="168" stroke="#089981" stroke-width="1"/>
<rect x="684.0" y="154.17" width="5" height="13" fill="#089981"/>
<line x1="693.5" y1="135" x2="693.5" y2="157" stroke="#089981" stroke-width="1"/>
<rect x="691.0" y="138" width="5" height="18.17" fill="#089981"/>
<line x1="699.5" y1="127.17" x2="699.5" y2="147" stroke="#089981" stroke-width="1"/>
<rect x="697.0" y="129.17" width="5" height="9.5" fill="#089981"/>
<line x1="706.5" y1="123" x2="706.5" y2="133.83" stroke="#089981" stroke-width="1"/>
<rect x="704.0" y="127" width="5" height="3.83" fill="#089981"/>
<line x1="712.5" y1="110" x2="712.5" y2="132" stroke="#089981" stroke-width="1"/>
<rect x="710.0" y="112.5" width="5" height="15.1" fill="#089981"/>
<line x1="719.5" y1="96.2" x2="719.5" y2="112.5" stroke="#089981" stroke-width="1"/>
<rect x="717.0" y="98" width="5" height="14.5" fill="#089981"/>
<line x1="725.5" y1="95" x2="725.5" y2="121.7" stroke="#f23645" stroke-width="1"/>
<rect x="723.0" y="99.2" width="5" height="12.5" fill="#f23645"/>
<line x1="731.5" y1="105" x2="731.5" y2="135.8" stroke="#089981" stroke-width="1"/>
<rect x="729.0" y="106.3" width="5" height="5.4" fill="#089981"/>
<line x1="738.5" y1="97.2" x2="738.5" y2="107.8" stroke="#089981" stroke-width="1"/>
<rect x="736.0" y="99.2" width="5" height="8.6" fill="#089981"/>
<line x1="744.5" y1="88" x2="744.5" y2="102" stroke="#089981" stroke-width="1"/>
<rect x="742.0" y="90" width="5" height="9.7" fill="#089981"/>
<line x1="751.5" y1="85" x2="751.5" y2="98.8" stroke="#f23645" stroke-width="1"/>
<rect x="749.0" y="91.2" width="5" height="2.5" fill="#f23645"/>
<line x1="757.5" y1="85" x2="757.5" y2="95" stroke="#089981" stroke-width="1"/>
<rect x="755.0" y="89.2" width="5" height="4.5" fill="#089981"/>
<line x1="763.5" y1="77" x2="763.5" y2="96.7" stroke="#089981" stroke-width="1"/>
<rect x="761.0" y="89.1" width="5" height="1" fill="#089981"/>
<line x1="770.5" y1="74.2" x2="770.5" y2="91.2" stroke="#089981" stroke-width="1"/>
<rect x="768.0" y="78.3" width="5" height="11.7" fill="#089981"/>
<line x1="776.5" y1="74.2" x2="776.5" y2="83.8" stroke="#089981" stroke-width="1"/>
<rect x="774.0" y="76.2" width="5" height="2.5" fill="#089981"/>
<line x1="783.5" y1="68" x2="783.5" y2="78" stroke="#089981" stroke-width="1"/>
<rect x="781.0" y="71.2" width="5" height="5.5" fill="#089981"/>
<line x1="789.5" y1="68" x2="789.5" y2="80" stroke="#f23645" stroke-width="1"/>
<rect x="787.0" y="71.2" width="5" height="7.5" fill="#f23645"/>
<line x1="796.5" y1="77.5" x2="796.5" y2="102" stroke="#f23645" stroke-width="1"/>
<rect x="794.0" y="78.3" width="5" height="8.4" fill="#f23645"/>
<line x1="802.5" y1="68.8" x2="802.5" y2="94.2" stroke="#089981" stroke-width="1"/>
<rect x="800.0" y="71.2" width="5" height="16.3" fill="#089981"/>
<line x1="808.5" y1="65.8" x2="808.5" y2="89.2" stroke="#f23645" stroke-width="1"/>
<rect x="806.0" y="71.2" width="5" height="9.6" fill="#f23645"/>
<line x1="815.5" y1="68.8" x2="815.5" y2="122" stroke="#f23645" stroke-width="1"/>
<rect x="813.0" y="80.3" width="5" height="32.7" fill="#f23645"/>
<line x1="821.5" y1="83" x2="821.5" y2="115" stroke="#089981" stroke-width="1"/>
<rect x="819.0" y="90" width="5" height="23" fill="#089981"/>
<line x1="828.5" y1="78" x2="828.5" y2="98.8" stroke="#f23645" stroke-width="1"/>
<rect x="826.0" y="90" width="5" height="4.7" fill="#f23645"/>
<line x1="834.5" y1="83.8" x2="834.5" y2="103.8" stroke="#f23645" stroke-width="1"/>
<rect x="832.0" y="94.2" width="5" height="3.6" fill="#f23645"/>
<line x1="841.5" y1="97.2" x2="841.5" y2="115.8" stroke="#f23645" stroke-width="1"/>
<rect x="839.0" y="97.2" width="5" height="5.3" fill="#f23645"/>
<line x1="847.5" y1="95" x2="847.5" y2="115.8" stroke="#f23645" stroke-width="1"/>
<rect x="845.0" y="102.2" width="5" height="6.5" fill="#f23645"/>
<line x1="853.5" y1="90.8" x2="853.5" y2="110" stroke="#089981" stroke-width="1"/>
<rect x="851.0" y="94.7" width="5" height="14" fill="#089981"/>
<line x1="860.5" y1="80.8" x2="860.5" y2="117" stroke="#f23645" stroke-width="1"/>
<rect x="858.0" y="94.7" width="5" height="17" fill="#f23645"/>
<line x1="866.5" y1="86.9" x2="866.5" y2="131.5" stroke="#f23645" stroke-width="1"/>
<rect x="864.0" y="111.2" width="5" height="2.4" fill="#f23645"/>
</g>
<g clip-path="url(#cr)">
<line x1="10.3" y1="458.5" x2="1044" y2="458.5" stroke="#787b86" stroke-width="1" stroke-dasharray="5 6"/>
<line x1="10.3" y1="492.5" x2="1044" y2="492.5" stroke="#787b86" stroke-width="1" stroke-dasharray="5 6"/>
<line x1="10.3" y1="527.5" x2="1044" y2="527.5" stroke="#787b86" stroke-width="1" stroke-dasharray="5 6"/>
<polyline points="10,513 12.5,515 18.5,522.7 25.5,519.2 31.5,524.2 37.5,512.2 44.5,497.2 50.5,502.2 57.5,506.3 63.5,503 70.5,503.3 76.5,499.3 82.5,497.2 89.5,505 95.5,510.8 102.5,509.3 108.5,512.7 115.5,500.5 121.5,485.5 127.5,485.5 134.5,488.8 140.5,488.8 147.5,473.5 153.5,477.7 160.5,485.5 166.5,478.3 172.5,475.2 179.5,467.7 185.5,470 192.5,467.7 198.5,471 205.5,473.8 211.5,478.3 217.5,483 224.5,477.5 230.5,488.8 237.5,485.5 243.5,496.3 249.5,496 256.5,485.8 262.5,490.5 269.5,496.7 275.5,490.5 282.5,478.3 288.5,477.7 294.5,479.7 301.5,474.3 307.5,473.3 314.5,473.8 320.5,470 327.5,471.3 333.5,468.5 339.5,465 346.5,461 352.5,461 359.5,455.2 365.5,461.8 372.5,460.5 378.5,483.8 384.5,476.3 391.5,468.8 397.5,478.3 404.5,478.5 410.5,489.3 417.5,504.2 423.5,506.8 429.5,496.3 436.5,490.8 442.5,497.2 449.5,484.2 455.5,486.8 462.5,471 468.5,462.2 474.5,468.8 481.5,480.2 487.5,476.8 494.5,476.3 500.5,481.3 506.5,486.7 513.5,486.8 519.5,491 526.5,487.5 532.5,475.8 539.5,480 545.5,476.7 551.5,471.8 558.5,474.2 564.5,478 571.5,479.2 577.5,496.8 584.5,487.2 590.5,483 596.5,477.7 603.5,480.8 609.5,479.2 616.5,476.7 622.5,468.5 629.5,464.2 635.5,457.7 641.5,443.8 648.5,467.5 654.5,463 661.5,488.8 667.5,495 674.5,496 680.5,487.5 686.5,482.5 693.5,477.2 699.5,474.3 706.5,473 712.5,468 719.5,464.2 725.5,471.8 731.5,470 738.5,466.8 744.5,464.3 751.5,466.3 757.5,464.7 763.5,464.3 770.5,460.5 776.5,459.3 783.5,457.7 789.5,464.7 796.5,471.3 802.5,463.8 808.5,471.8 815.5,493.3 821.5,481.8 828.5,484.2 834.5,486.3 841.5,489.7 847.5,492.7 853.5,485.5 860.5,495 866.5,496.4" fill="none" stroke="#7e57c2" stroke-width="2" stroke-linejoin="round" stroke-linecap="round"/>
</g>
<defs><filter id="gs" x="0" y="0" width="1110" height="602" filterUnits="userSpaceOnUse" color-interpolation-filters="sRGB"><feColorMatrix type="identity"/></filter></defs>
<g filter="url(#gs)">
<text x="17.8" y="29.9" font-size="12" font-weight="normal" fill="#131722" textLength="70.1" lengthAdjust="spacingAndGlyphs" xml:space="preserve">EUR/JPY, 1D</text>
<text x="95.2" y="29.9" font-size="12" font-weight="normal" fill="#131722" textLength="9.6" lengthAdjust="spacingAndGlyphs" xml:space="preserve">O</text>
<text x="103.4" y="29.9" font-size="12" font-weight="normal" fill="#f23645" textLength="38.8" lengthAdjust="spacingAndGlyphs" xml:space="preserve">168.60</text>
<text x="148.8" y="29.9" font-size="12" font-weight="normal" fill="#131722" textLength="9.7" lengthAdjust="spacingAndGlyphs" xml:space="preserve">H</text>
<text x="156.8" y="29.9" font-size="12" font-weight="normal" fill="#f23645" textLength="39.1" lengthAdjust="spacingAndGlyphs" xml:space="preserve">169.80</text>
<text x="202.5" y="29.9" font-size="12" font-weight="normal" fill="#131722" textLength="7.2" lengthAdjust="spacingAndGlyphs" xml:space="preserve">L</text>
<text x="208.6" y="29.9" font-size="12" font-weight="normal" fill="#f23645" textLength="38.2" lengthAdjust="spacingAndGlyphs" xml:space="preserve">167.52</text>
<text x="254.2" y="29.9" font-size="12" font-weight="normal" fill="#131722" textLength="8.2" lengthAdjust="spacingAndGlyphs" xml:space="preserve">C</text>
<text x="261.1" y="29.9" font-size="12" font-weight="normal" fill="#f23645" textLength="38.7" lengthAdjust="spacingAndGlyphs" xml:space="preserve">168.48</text>
<text x="307.7" y="29.9" font-size="12" font-weight="normal" fill="#f23645" textLength="30.6" lengthAdjust="spacingAndGlyphs" xml:space="preserve">−0.12</text>
<text x="342.4" y="29.9" font-size="12" font-weight="normal" fill="#f23645" textLength="47.5" lengthAdjust="spacingAndGlyphs" xml:space="preserve">(−0.07%)</text>
<text x="17.8" y="47.9" font-size="12" font-weight="normal" fill="#131722" textLength="252" lengthAdjust="spacingAndGlyphs" xml:space="preserve">Moving Average Triple (50, 100, 200, Simple)</text>
<text x="277" y="47.9" font-size="12" font-weight="normal" fill="#ff6d00" textLength="38.6" lengthAdjust="spacingAndGlyphs" xml:space="preserve">167.59</text>
<text x="322.5" y="47.9" font-size="12" font-weight="normal" fill="#2196f3" textLength="38.1" lengthAdjust="spacingAndGlyphs" xml:space="preserve">164.88</text>
<text x="367.6" y="47.9" font-size="12" font-weight="normal" fill="#26c6da" textLength="38" lengthAdjust="spacingAndGlyphs" xml:space="preserve">161.89</text>
<text x="17.4" y="65.8" font-size="12" font-weight="normal" fill="#131722" textLength="157.7" lengthAdjust="spacingAndGlyphs" xml:space="preserve">Ichimoku (9, 26, 52, 26, 26)</text>
<text x="182.3" y="65.8" font-size="12" font-weight="normal" fill="#2196f3" textLength="38" lengthAdjust="spacingAndGlyphs" xml:space="preserve">169.12</text>
<text x="227.6" y="65.8" font-size="12" font-weight="normal" fill="#801922" textLength="38.3" lengthAdjust="spacingAndGlyphs" xml:space="preserve">169.11</text>
<text x="273" y="65.8" font-size="12" font-weight="normal" fill="#43a047" textLength="37.9" lengthAdjust="spacingAndGlyphs" xml:space="preserve">168.48</text>
<text x="318.1" y="65.8" font-size="12" font-weight="normal" fill="#a5d6a7" textLength="38" lengthAdjust="spacingAndGlyphs" xml:space="preserve">169.12</text>
<text x="363.3" y="65.8" font-size="12" font-weight="normal" fill="#faa1a4" textLength="38.3" lengthAdjust="spacingAndGlyphs" xml:space="preserve">166.94</text>
<text x="17.3" y="453.8" font-size="12" font-weight="normal" fill="#131722" textLength="43.3" lengthAdjust="spacingAndGlyphs" xml:space="preserve">RSI (14)</text>
<text x="68.6" y="453.8" font-size="12" font-weight="normal" fill="#7e57c2" textLength="31.7" lengthAdjust="spacingAndGlyphs" xml:space="preserve">47.65</text>
<text x="1051.7" y="165.8" font-size="12" font-weight="normal" fill="#131722" textLength="39.4" lengthAdjust="spacingAndGlyphs" xml:space="preserve">166.00</text>
<text x="1051.7" y="204.8" font-size="12" font-weight="normal" fill="#131722" textLength="39.4" lengthAdjust="spacingAndGlyphs" xml:space="preserve">164.00</text>
<text x="1051.7" y="282.8" font-size="12" font-weight="normal" fill="#131722" textLength="39.4" lengthAdjust="spacingAndGlyphs" xml:space="preserve">160.00</text>
<text x="1051.7" y="321.8" font-size="12" font-weight="normal" fill="#131722" textLength="39.4" lengthAdjust="spacingAndGlyphs" xml:space="preserve">158.00</text>
<text x="1051.7" y="360.8" font-size="12" font-weight="normal" fill="#131722" textLength="39.4" lengthAdjust="spacingAndGlyphs" xml:space="preserve">156.00</text>
<text x="1051.7" y="399.8" font-size="12" font-weight="normal" fill="#131722" textLength="39.4" lengthAdjust="spacingAndGlyphs" xml:space="preserve">154.00</text>
<text x="1051.5" y="445.1" font-size="12" font-weight="normal" fill="#131722" textLength="32.8" lengthAdjust="spacingAndGlyphs" xml:space="preserve">80.00</text>
<text x="1051.5" y="479.1" font-size="12" font-weight="normal" fill="#131722" textLength="32.8" lengthAdjust="spacingAndGlyphs" xml:space="preserve">60.00</text>
<text x="1051.5" y="513.8" font-size="12" font-weight="normal" fill="#131722" textLength="32.8" lengthAdjust="spacingAndGlyphs" xml:space="preserve">40.00</text>
</g>
<path d="M1044 138 H1093.5 Q1095.5 138 1095.5 140 V156.3 Q1095.5 158.3 1093.5 158.3 H1044 Z" fill="#faa1a4"/>
<path d="M1044 119.5 H1093.5 Q1095.5 119.5 1095.5 121.5 V138.8 Q1095.5 140.8 1093.5 140.8 H1044 Z" fill="#ff6d00"/>
<path d="M1044 102 H1093.5 Q1095.5 102 1095.5 104 V120.3 Q1095.5 122.3 1093.5 122.3 H1044 Z" fill="#43a047"/>
<path d="M1044 83.6 H1093.5 Q1095.5 83.6 1095.5 85.6 V102.8 Q1095.5 104.8 1093.5 104.8 H1044 Z" fill="#f23645"/>
<path d="M1044 66.1 H1093.5 Q1095.5 66.1 1095.5 68.1 V84.4 Q1095.5 86.4 1093.5 86.4 H1044 Z" fill="#801922"/>
<path d="M1044 47.9 H1093.5 Q1095.5 47.9 1095.5 49.9 V66.9 Q1095.5 68.9 1093.5 68.9 H1044 Z" fill="#a5d6a7"/>
<path d="M1044 33 H1093.5 Q1095.5 33 1095.5 35 V48.7 Q1095.5 50.7 1093.5 50.7 H1044 Z" fill="#2196f3"/>
<path d="M1044 174.1 H1093.5 Q1095.5 174.1 1095.5 176.1 V190.7 Q1095.5 192.7 1093.5 192.7 H1044 Z" fill="#2196f3"/>
<path d="M1044 232.9 H1093.5 Q1095.5 232.9 1095.5 234.9 V249.7 Q1095.5 251.7 1093.5 251.7 H1044 Z" fill="#26c6da"/>
<path d="M1044 486.9 H1087.5 Q1089.5 486.9 1089.5 488.9 V503.7 Q1089.5 505.7 1087.5 505.7 H1044 Z" fill="#7e57c2"/>
<g filter="url(#gs)">
<text x="1052.8" y="154.2" font-size="12" font-weight="normal" fill="#131722" textLength="38.8" lengthAdjust="spacingAndGlyphs" xml:space="preserve">166.94</text>
<text x="1052.8" y="135.7" font-size="12" font-weight="normal" fill="#ffffff" textLength="38.8" lengthAdjust="spacingAndGlyphs" xml:space="preserve">167.59</text>
<text x="1052.8" y="118.2" font-size="12" font-weight="normal" fill="#ffffff" textLength="38.8" lengthAdjust="spacingAndGlyphs" xml:space="preserve">168.48</text>
<text x="1052.8" y="99.8" font-size="12" font-weight="normal" fill="#ffffff" textLength="38.8" lengthAdjust="spacingAndGlyphs" xml:space="preserve">168.48</text>
<text x="1052.8" y="82.3" font-size="12" font-weight="normal" fill="#ffffff" textLength="38.8" lengthAdjust="spacingAndGlyphs" xml:space="preserve">169.11</text>
<text x="1052.8" y="64.1" font-size="12" font-weight="normal" fill="#131722" textLength="38.8" lengthAdjust="spacingAndGlyphs" xml:space="preserve">169.12</text>
<text x="1052.8" y="46.7" font-size="12" font-weight="normal" fill="#ffffff" textLength="38.8" lengthAdjust="spacingAndGlyphs" xml:space="preserve">169.12</text>
<text x="1052.8" y="187.8" font-size="12" font-weight="normal" fill="#ffffff" textLength="38.8" lengthAdjust="spacingAndGlyphs" xml:space="preserve">164.88</text>
<text x="1052.8" y="246.6" font-size="12" font-weight="normal" fill="#131722" textLength="38.8" lengthAdjust="spacingAndGlyphs" xml:space="preserve">161.89</text>
<text x="1052.3" y="500.6" font-size="12" font-weight="normal" fill="#ffffff" textLength="32.7" lengthAdjust="spacingAndGlyphs" xml:space="preserve">47.65</text>
<text x="87.35" y="555" font-size="12" font-weight="normal" fill="#131722" stroke="#131722" stroke-width="0.55" textLength="28.9" lengthAdjust="spacingAndGlyphs" xml:space="preserve">2024</text>
<text x="239.45" y="555" font-size="12" font-weight="normal" fill="#131722" textLength="20.5" lengthAdjust="spacingAndGlyphs" xml:space="preserve">Feb</text>
<text x="373.7" y="555" font-size="12" font-weight="normal" fill="#131722" textLength="21.2" lengthAdjust="spacingAndGlyphs" xml:space="preserve">Mar</text>
<text x="509.2" y="555" font-size="12" font-weight="normal" fill="#131722" textLength="20.4" lengthAdjust="spacingAndGlyphs" xml:space="preserve">Apr</text>
<text x="649.4" y="555" font-size="12" font-weight="normal" fill="#131722" textLength="23.2" lengthAdjust="spacingAndGlyphs" xml:space="preserve">May</text>
<text x="798.2" y="555" font-size="12" font-weight="normal" fill="#131722" textLength="21" lengthAdjust="spacingAndGlyphs" xml:space="preserve">Jun</text>
<text x="948.05" y="555" font-size="12" font-weight="normal" fill="#131722" textLength="17.3" lengthAdjust="spacingAndGlyphs" xml:space="preserve">Jul</text>
<g transform="translate(10.2,576) scale(0.568,0.556)" fill="#131722"><path d="M14 22H7V11H0V4h14v18zM28 22h-8l7.5-18h8L28 22z"/><circle cx="20" cy="8" r="4"/></g>
<text x="34.2" y="588.5" font-size="13.5" font-weight="normal" fill="#1e222d" textLength="74.1" lengthAdjust="spacingAndGlyphs" xml:space="preserve">TradingView</text>
</g>
</svg>
</body></html>
